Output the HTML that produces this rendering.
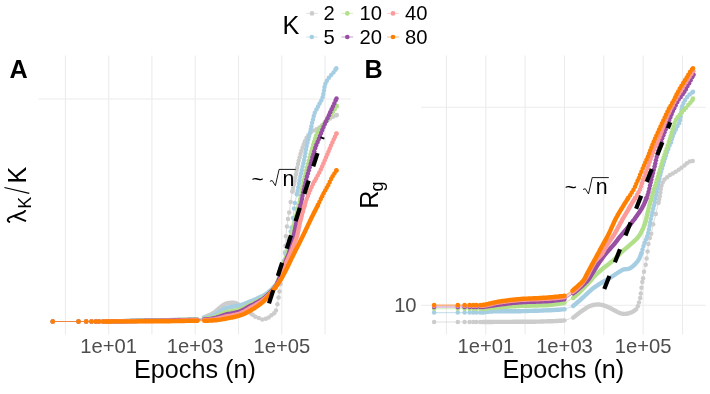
<!DOCTYPE html>
<html><head><meta charset="utf-8"><title>chart</title>
<style>
html,body{margin:0;padding:0;background:#fff;}
body{width:710px;height:394px;overflow:hidden;}
svg{display:block;font-family:"Liberation Sans",sans-serif;will-change:transform;transform:translateZ(0);}
</style></head><body>
<svg width="710" height="394" viewBox="0 0 710 394">
<rect width="710" height="394" fill="#fff"/>
<g id="grid">
<line x1="65.4" y1="55.6" x2="65.4" y2="334.4" stroke="#EBEBEB" stroke-width="1.07"/>
<line x1="446.4" y1="55.6" x2="446.4" y2="334.4" stroke="#EBEBEB" stroke-width="1.07"/>
<line x1="108.7" y1="55.6" x2="108.7" y2="334.4" stroke="#EBEBEB" stroke-width="1.07"/>
<line x1="485.8" y1="55.6" x2="485.8" y2="334.4" stroke="#EBEBEB" stroke-width="1.07"/>
<line x1="151.9" y1="55.6" x2="151.9" y2="334.4" stroke="#EBEBEB" stroke-width="1.07"/>
<line x1="525.1" y1="55.6" x2="525.1" y2="334.4" stroke="#EBEBEB" stroke-width="1.07"/>
<line x1="195.2" y1="55.6" x2="195.2" y2="334.4" stroke="#EBEBEB" stroke-width="1.07"/>
<line x1="564.5" y1="55.6" x2="564.5" y2="334.4" stroke="#EBEBEB" stroke-width="1.07"/>
<line x1="238.5" y1="55.6" x2="238.5" y2="334.4" stroke="#EBEBEB" stroke-width="1.07"/>
<line x1="603.8" y1="55.6" x2="603.8" y2="334.4" stroke="#EBEBEB" stroke-width="1.07"/>
<line x1="281.8" y1="55.6" x2="281.8" y2="334.4" stroke="#EBEBEB" stroke-width="1.07"/>
<line x1="643.1" y1="55.6" x2="643.1" y2="334.4" stroke="#EBEBEB" stroke-width="1.07"/>
<line x1="325.0" y1="55.6" x2="325.0" y2="334.4" stroke="#EBEBEB" stroke-width="1.07"/>
<line x1="682.5" y1="55.6" x2="682.5" y2="334.4" stroke="#EBEBEB" stroke-width="1.07"/>
<line x1="38.4" y1="99.0" x2="351" y2="99.0" stroke="#EBEBEB" stroke-width="1.07"/>
<line x1="421" y1="107.3" x2="705.6" y2="107.3" stroke="#EBEBEB" stroke-width="1.07"/>
<line x1="421" y1="305.2" x2="705.6" y2="305.2" stroke="#EBEBEB" stroke-width="1.07"/>
</g>
<g id="panelA">
<polyline points="52.7,321.5 78.5,321.5 86.2,321.5 91.5,321.5 95.8,321.5 99.0,321.5 103.2,321.5 105.6,321.5 120.0,321.1 150.0,320.5 175.0,319.9 195.7,319.5 197.4,319.5 203.9,317.5 208.0,315.6 213.4,313.0 220.0,307.6 226.0,303.6 230.0,302.9 235.0,303.0 240.0,305.2 246.0,309.8 251.0,313.4 252.6,314.7 255.3,316.7 258.8,318.1 262.3,319.5 265.8,318.8 268.6,317.4 271.4,315.3 274.2,313.3 276.0,310.5 277.4,304.2 278.6,297.5 279.5,291.6 280.6,284.0 281.8,276.0 283.0,268.0 284.0,260.9 285.0,252.3 285.5,245.7 285.9,236.2 286.9,226.6 288.0,219.0 289.2,212.4 290.7,201.9 292.4,191.6 292.4,191.6 295.5,176.5 298.8,160.5 302.4,148.1 306.9,137.4 312.0,131.5 318.2,128.4 329.7,118.6 336.8,115.0" fill="none" stroke="#CCCCCC" stroke-width="1.1" stroke-linecap="round" stroke-linejoin="round" stroke-opacity="0.6"/>
<circle cx="52.7" cy="321.5" r="2.25" fill="#CCCCCC"/><circle cx="78.5" cy="321.5" r="2.25" fill="#CCCCCC"/><circle cx="86.2" cy="321.5" r="2.25" fill="#CCCCCC"/><circle cx="91.5" cy="321.5" r="2.25" fill="#CCCCCC"/><circle cx="95.8" cy="321.5" r="2.25" fill="#CCCCCC"/><circle cx="99.0" cy="321.5" r="2.25" fill="#CCCCCC"/><circle cx="103.2" cy="321.5" r="2.25" fill="#CCCCCC"/>
<polyline points="105.6,321.5 106.8,321.5 108.0,321.4 109.1,321.4 110.2,321.4 111.3,321.4 112.5,321.3 113.6,321.3 114.8,321.3 116.0,321.2 117.3,321.2 118.6,321.2 120.0,321.1 121.0,321.1 122.0,321.1 123.1,321.1 124.2,321.0 125.3,321.0 126.4,321.0 127.6,321.0 128.8,321.0 130.0,320.9 131.2,320.9 132.5,320.9 133.7,320.9 135.0,320.8 136.2,320.8 137.5,320.8 138.7,320.8 140.0,320.7 141.3,320.7 142.5,320.7 143.8,320.7 145.0,320.6 146.2,320.6 147.4,320.6 148.6,320.6 149.7,320.5 150.9,320.5 152.2,320.5 153.4,320.4 154.6,320.4 155.9,320.4 157.1,320.4 158.3,320.3 159.5,320.3 160.7,320.3 161.9,320.2 163.1,320.2 164.3,320.2 165.5,320.2 166.6,320.1 167.8,320.1 169.0,320.1 170.1,320.0 171.3,320.0 172.4,320.0 173.6,320.0 174.7,319.9 175.9,319.9 177.3,319.9 178.6,319.8 180.0,319.8 181.4,319.8 182.8,319.8 184.2,319.7 185.6,319.7 186.9,319.7 188.2,319.6 189.5,319.6 190.7,319.6 191.8,319.6 192.8,319.5 193.7,319.5 194.6,319.5 195.3,319.5 196.1,319.5 197.1,319.5 197.4,319.5" fill="none" stroke="#CCCCCC" stroke-width="4.4" stroke-linecap="round" stroke-linejoin="round" stroke-opacity="1"/>
<polyline points="203.9,317.5 204.9,317.0 205.9,316.6 206.9,316.1 208.0,315.6 209.0,315.1 210.1,314.7 211.2,314.2 212.3,313.6 213.4,313.0 214.3,312.4 215.2,311.7 216.1,310.9 217.0,310.1 218.0,309.3 218.9,308.5 219.8,307.8 220.7,307.1 221.7,306.3 222.7,305.6 223.7,304.9 224.6,304.3 225.5,303.8 226.6,303.4 227.7,303.1 228.8,303.0 230.0,302.9 231.1,302.8 232.3,302.8 233.5,302.8 234.7,302.9 235.8,303.2 236.9,303.6 237.9,304.1 238.9,304.6 240.0,305.2 240.9,305.8 241.9,306.5 242.8,307.2 243.7,308.0 244.6,308.7 245.6,309.5 246.5,310.2 247.5,310.9 248.4,311.5 249.3,312.2 250.3,312.9 251.0,313.4" fill="none" stroke="#CCCCCC" stroke-width="4.4" stroke-linecap="round" stroke-linejoin="round" stroke-opacity="1"/>
<circle cx="252.6" cy="314.7" r="2.25" fill="#CCCCCC"/><circle cx="255.3" cy="316.7" r="2.25" fill="#CCCCCC"/><circle cx="258.8" cy="318.1" r="2.25" fill="#CCCCCC"/><circle cx="262.3" cy="319.5" r="2.25" fill="#CCCCCC"/><circle cx="265.8" cy="318.8" r="2.25" fill="#CCCCCC"/><circle cx="268.6" cy="317.4" r="2.25" fill="#CCCCCC"/><circle cx="271.4" cy="315.3" r="2.25" fill="#CCCCCC"/><circle cx="274.2" cy="313.3" r="2.25" fill="#CCCCCC"/><circle cx="276.0" cy="310.5" r="2.25" fill="#CCCCCC"/><circle cx="277.4" cy="304.2" r="2.25" fill="#CCCCCC"/><circle cx="278.6" cy="297.5" r="2.25" fill="#CCCCCC"/><circle cx="279.5" cy="291.6" r="2.25" fill="#CCCCCC"/><circle cx="280.6" cy="284.0" r="2.25" fill="#CCCCCC"/><circle cx="281.8" cy="276.0" r="2.25" fill="#CCCCCC"/><circle cx="283.0" cy="268.0" r="2.25" fill="#CCCCCC"/><circle cx="284.0" cy="260.9" r="2.25" fill="#CCCCCC"/><circle cx="285.0" cy="252.3" r="2.25" fill="#CCCCCC"/><circle cx="285.5" cy="245.7" r="2.25" fill="#CCCCCC"/><circle cx="285.9" cy="236.2" r="2.25" fill="#CCCCCC"/><circle cx="286.9" cy="226.6" r="2.25" fill="#CCCCCC"/><circle cx="288.0" cy="219.0" r="2.25" fill="#CCCCCC"/><circle cx="289.2" cy="212.4" r="2.25" fill="#CCCCCC"/><circle cx="290.7" cy="201.9" r="2.25" fill="#CCCCCC"/><circle cx="292.4" cy="191.6" r="2.25" fill="#CCCCCC"/>
<circle cx="292.4" cy="191.6" r="2.25" fill="#CCCCCC"/><circle cx="293.1" cy="188.1" r="2.25" fill="#CCCCCC"/><circle cx="293.8" cy="184.7" r="2.25" fill="#CCCCCC"/><circle cx="294.5" cy="181.2" r="2.25" fill="#CCCCCC"/><circle cx="295.3" cy="177.7" r="2.25" fill="#CCCCCC"/><circle cx="296.0" cy="174.2" r="2.25" fill="#CCCCCC"/><circle cx="296.6" cy="170.9" r="2.25" fill="#CCCCCC"/><circle cx="297.2" cy="167.7" r="2.25" fill="#CCCCCC"/><circle cx="298.0" cy="164.1" r="2.25" fill="#CCCCCC"/><circle cx="298.7" cy="160.8" r="2.25" fill="#CCCCCC"/><circle cx="299.6" cy="157.5" r="2.25" fill="#CCCCCC"/><circle cx="300.5" cy="154.1" r="2.25" fill="#CCCCCC"/><circle cx="301.5" cy="150.8" r="2.25" fill="#CCCCCC"/><circle cx="302.6" cy="147.5" r="2.25" fill="#CCCCCC"/><circle cx="303.8" cy="144.3" r="2.25" fill="#CCCCCC"/><circle cx="305.0" cy="141.2" r="2.25" fill="#CCCCCC"/><circle cx="306.5" cy="138.1" r="2.25" fill="#CCCCCC"/><circle cx="308.3" cy="135.3" r="2.25" fill="#CCCCCC"/><circle cx="310.7" cy="132.6" r="2.25" fill="#CCCCCC"/><circle cx="313.4" cy="130.6" r="2.25" fill="#CCCCCC"/><circle cx="316.5" cy="129.3" r="2.25" fill="#CCCCCC"/><circle cx="319.4" cy="127.5" r="2.25" fill="#CCCCCC"/><circle cx="322.1" cy="125.2" r="2.25" fill="#CCCCCC"/><circle cx="324.7" cy="122.8" r="2.25" fill="#CCCCCC"/><circle cx="327.3" cy="120.5" r="2.25" fill="#CCCCCC"/><circle cx="330.0" cy="118.4" r="2.25" fill="#CCCCCC"/><circle cx="332.9" cy="116.8" r="2.25" fill="#CCCCCC"/><circle cx="336.0" cy="115.4" r="2.25" fill="#CCCCCC"/><circle cx="336.8" cy="115.0" r="2.25" fill="#CCCCCC"/>
<polyline points="52.7,321.5 78.5,321.5 86.2,321.5 91.5,321.5 95.8,321.5 99.0,321.5 103.2,321.5 105.6,321.5 120.0,321.2 150.0,320.6 175.0,320.0 195.7,319.6 197.4,319.6 204.3,318.0 213.4,315.5 220.0,311.4 226.0,308.1 232.4,306.8 238.7,305.7 244.0,304.0 250.4,301.3 255.0,299.5 260.5,296.9 264.0,295.3 267.6,292.8 271.5,289.5 275.7,284.9 277.6,282.0 279.2,275.0 280.5,268.0 282.2,264.0 284.0,260.9 285.5,254.0 287.0,247.0 288.7,240.0 290.7,231.4 291.6,227.6 293.0,218.0 294.1,208.6 294.9,202.9 296.9,194.3 296.9,194.3 300.4,176.5 304.0,160.5 306.6,146.3 310.2,132.1 311.6,125.0 312.3,122.2 314.6,113.3 318.2,106.2 322.3,98.2 323.7,92.0 325.3,84.0 328.9,77.8 333.3,72.8 336.3,68.3" fill="none" stroke="#A6CEE3" stroke-width="1.1" stroke-linecap="round" stroke-linejoin="round" stroke-opacity="0.6"/>
<circle cx="52.7" cy="321.5" r="2.25" fill="#A6CEE3"/><circle cx="78.5" cy="321.5" r="2.25" fill="#A6CEE3"/><circle cx="86.2" cy="321.5" r="2.25" fill="#A6CEE3"/><circle cx="91.5" cy="321.5" r="2.25" fill="#A6CEE3"/><circle cx="95.8" cy="321.5" r="2.25" fill="#A6CEE3"/><circle cx="99.0" cy="321.5" r="2.25" fill="#A6CEE3"/><circle cx="103.2" cy="321.5" r="2.25" fill="#A6CEE3"/>
<polyline points="105.6,321.5 106.8,321.5 108.0,321.4 109.1,321.4 110.2,321.4 111.3,321.4 112.5,321.3 113.6,321.3 114.8,321.3 116.0,321.2 117.3,321.2 118.6,321.2 120.0,321.2 121.0,321.1 122.0,321.1 123.1,321.1 124.2,321.1 125.3,321.1 126.4,321.0 127.6,321.0 128.8,321.0 130.0,321.0 131.2,320.9 132.5,320.9 133.7,320.9 135.0,320.9 136.2,320.8 137.5,320.8 138.7,320.8 140.0,320.8 141.3,320.8 142.5,320.7 143.8,320.7 145.0,320.7 146.2,320.7 147.4,320.6 148.6,320.6 149.7,320.6 150.9,320.6 152.2,320.5 153.4,320.5 154.6,320.5 155.9,320.5 157.1,320.4 158.3,320.4 159.5,320.4 160.7,320.3 161.9,320.3 163.1,320.3 164.3,320.3 165.5,320.2 166.6,320.2 167.8,320.2 169.0,320.2 170.1,320.1 171.3,320.1 172.4,320.1 173.6,320.1 174.7,320.0 175.9,320.0 177.3,320.0 178.6,319.9 180.0,319.9 181.4,319.9 182.8,319.9 184.2,319.8 185.6,319.8 186.9,319.8 188.2,319.7 189.5,319.7 190.7,319.7 191.8,319.7 192.8,319.6 193.7,319.6 194.6,319.6 195.3,319.6 196.1,319.6 197.1,319.6 197.4,319.6" fill="none" stroke="#A6CEE3" stroke-width="4.4" stroke-linecap="round" stroke-linejoin="round" stroke-opacity="1"/>
<polyline points="204.3,318.0 205.5,317.7 206.6,317.4 207.8,317.2 209.0,316.9 210.1,316.6 211.3,316.3 212.4,315.9 213.4,315.5 214.5,315.0 215.6,314.3 216.6,313.7 217.5,313.0 218.5,312.3 219.5,311.7 220.5,311.1 221.6,310.5 222.6,309.8 223.6,309.2 224.7,308.7 225.7,308.2 226.8,307.8 228.0,307.5 229.2,307.3 230.3,307.1 231.5,307.0 232.7,306.7 233.8,306.6 235.0,306.4 236.2,306.2 237.3,306.0 238.4,305.8 239.6,305.5 240.7,305.2 241.8,304.8 242.9,304.4 244.0,304.0 245.0,303.6 246.1,303.1 247.2,302.7 248.3,302.2 249.4,301.7 250.4,301.3 251.5,300.9 252.6,300.5 253.6,300.1 254.7,299.6 255.8,299.2 256.8,298.7 257.9,298.1 259.0,297.6 260.0,297.1 261.1,296.6 262.2,296.2 263.2,295.7 264.2,295.2 265.2,294.5 266.2,293.9 267.1,293.2 268.0,292.5 268.9,291.8 269.8,291.1 270.6,290.3 271.5,289.5 272.3,288.7 273.1,287.8 273.9,286.9 274.7,286.0 275.5,285.1 275.7,284.9" fill="none" stroke="#A6CEE3" stroke-width="4.4" stroke-linecap="round" stroke-linejoin="round" stroke-opacity="1"/>
<circle cx="277.6" cy="282.0" r="2.25" fill="#A6CEE3"/><circle cx="279.2" cy="275.0" r="2.25" fill="#A6CEE3"/><circle cx="280.5" cy="268.0" r="2.25" fill="#A6CEE3"/><circle cx="282.2" cy="264.0" r="2.25" fill="#A6CEE3"/><circle cx="284.0" cy="260.9" r="2.25" fill="#A6CEE3"/><circle cx="285.5" cy="254.0" r="2.25" fill="#A6CEE3"/><circle cx="287.0" cy="247.0" r="2.25" fill="#A6CEE3"/><circle cx="288.7" cy="240.0" r="2.25" fill="#A6CEE3"/><circle cx="290.7" cy="231.4" r="2.25" fill="#A6CEE3"/><circle cx="291.6" cy="227.6" r="2.25" fill="#A6CEE3"/><circle cx="293.0" cy="218.0" r="2.25" fill="#A6CEE3"/><circle cx="294.1" cy="208.6" r="2.25" fill="#A6CEE3"/><circle cx="294.9" cy="202.9" r="2.25" fill="#A6CEE3"/><circle cx="296.9" cy="194.3" r="2.25" fill="#A6CEE3"/>
<circle cx="296.9" cy="194.3" r="2.25" fill="#A6CEE3"/><circle cx="297.6" cy="190.8" r="2.25" fill="#A6CEE3"/><circle cx="298.3" cy="187.2" r="2.25" fill="#A6CEE3"/><circle cx="298.9" cy="183.7" r="2.25" fill="#A6CEE3"/><circle cx="299.6" cy="180.2" r="2.25" fill="#A6CEE3"/><circle cx="300.3" cy="176.8" r="2.25" fill="#A6CEE3"/><circle cx="301.0" cy="173.5" r="2.25" fill="#A6CEE3"/><circle cx="301.8" cy="170.3" r="2.25" fill="#A6CEE3"/><circle cx="302.6" cy="166.8" r="2.25" fill="#A6CEE3"/><circle cx="303.4" cy="163.3" r="2.25" fill="#A6CEE3"/><circle cx="304.1" cy="159.9" r="2.25" fill="#A6CEE3"/><circle cx="304.8" cy="156.4" r="2.25" fill="#A6CEE3"/><circle cx="305.4" cy="152.9" r="2.25" fill="#A6CEE3"/><circle cx="306.0" cy="149.5" r="2.25" fill="#A6CEE3"/><circle cx="306.7" cy="146.0" r="2.25" fill="#A6CEE3"/><circle cx="307.5" cy="142.7" r="2.25" fill="#A6CEE3"/><circle cx="308.3" cy="139.3" r="2.25" fill="#A6CEE3"/><circle cx="309.2" cy="136.1" r="2.25" fill="#A6CEE3"/><circle cx="310.0" cy="132.8" r="2.25" fill="#A6CEE3"/><circle cx="310.7" cy="129.5" r="2.25" fill="#A6CEE3"/><circle cx="311.4" cy="126.2" r="2.25" fill="#A6CEE3"/><circle cx="312.1" cy="122.8" r="2.25" fill="#A6CEE3"/><circle cx="313.0" cy="119.4" r="2.25" fill="#A6CEE3"/><circle cx="313.8" cy="115.9" r="2.25" fill="#A6CEE3"/><circle cx="314.8" cy="112.7" r="2.25" fill="#A6CEE3"/><circle cx="316.4" cy="109.6" r="2.25" fill="#A6CEE3"/><circle cx="318.1" cy="106.5" r="2.25" fill="#A6CEE3"/><circle cx="319.6" cy="103.5" r="2.25" fill="#A6CEE3"/><circle cx="321.3" cy="100.6" r="2.25" fill="#A6CEE3"/><circle cx="322.6" cy="97.3" r="2.25" fill="#A6CEE3"/><circle cx="323.3" cy="94.0" r="2.25" fill="#A6CEE3"/><circle cx="324.0" cy="90.6" r="2.25" fill="#A6CEE3"/><circle cx="324.5" cy="87.1" r="2.25" fill="#A6CEE3"/><circle cx="325.4" cy="83.7" r="2.25" fill="#A6CEE3"/><circle cx="326.9" cy="80.8" r="2.25" fill="#A6CEE3"/><circle cx="328.9" cy="77.8" r="2.25" fill="#A6CEE3"/><circle cx="331.2" cy="75.1" r="2.25" fill="#A6CEE3"/><circle cx="333.5" cy="72.6" r="2.25" fill="#A6CEE3"/><circle cx="335.4" cy="69.7" r="2.25" fill="#A6CEE3"/><circle cx="336.3" cy="68.3" r="2.25" fill="#A6CEE3"/>
<polyline points="52.7,321.5 78.5,321.5 86.2,321.5 91.5,321.5 95.8,321.5 99.0,321.5 103.2,321.5 105.6,321.5 120.0,321.2 150.0,320.6 175.0,320.1 195.7,319.7 197.4,319.7 204.3,318.8 213.4,317.4 220.0,314.7 226.0,312.1 232.4,311.0 238.7,309.8 244.0,307.7 250.4,304.3 255.0,302.3 260.5,299.4 264.0,297.4 267.6,294.4 271.5,290.7 275.7,285.9 275.7,285.9 279.5,277.0 283.0,266.0 289.2,247.0 295.5,219.0 299.2,203.8 301.2,193.4 304.4,178.3 310.4,155.2 317.6,132.1 322.8,125.0 328.3,118.0 332.2,113.0 336.8,106.0" fill="none" stroke="#B2DF8A" stroke-width="1.1" stroke-linecap="round" stroke-linejoin="round" stroke-opacity="0.6"/>
<circle cx="52.7" cy="321.5" r="2.25" fill="#B2DF8A"/><circle cx="78.5" cy="321.5" r="2.25" fill="#B2DF8A"/><circle cx="86.2" cy="321.5" r="2.25" fill="#B2DF8A"/><circle cx="91.5" cy="321.5" r="2.25" fill="#B2DF8A"/><circle cx="95.8" cy="321.5" r="2.25" fill="#B2DF8A"/><circle cx="99.0" cy="321.5" r="2.25" fill="#B2DF8A"/><circle cx="103.2" cy="321.5" r="2.25" fill="#B2DF8A"/>
<polyline points="105.6,321.5 106.8,321.5 108.0,321.4 109.1,321.4 110.2,321.4 111.3,321.4 112.5,321.3 113.6,321.3 114.8,321.3 116.0,321.3 117.3,321.2 118.6,321.2 120.0,321.2 121.0,321.2 122.0,321.1 123.1,321.1 124.2,321.1 125.3,321.1 126.4,321.1 127.6,321.0 128.8,321.0 130.0,321.0 131.2,321.0 132.5,321.0 133.7,320.9 135.0,320.9 136.2,320.9 137.5,320.9 138.7,320.8 140.0,320.8 141.3,320.8 142.5,320.8 143.8,320.8 145.0,320.7 146.2,320.7 147.4,320.7 148.6,320.7 149.7,320.6 150.9,320.6 152.2,320.6 153.4,320.6 154.6,320.5 155.9,320.5 157.1,320.5 158.3,320.5 159.5,320.4 160.7,320.4 161.9,320.4 163.1,320.4 164.3,320.3 165.5,320.3 166.6,320.3 167.8,320.3 169.0,320.2 170.1,320.2 171.3,320.2 172.4,320.2 173.6,320.1 174.7,320.1 175.9,320.1 177.3,320.1 178.6,320.0 180.0,320.0 181.4,320.0 182.8,319.9 184.2,319.9 185.6,319.9 186.9,319.9 188.2,319.8 189.5,319.8 190.7,319.8 191.8,319.8 192.8,319.7 193.7,319.7 194.6,319.7 195.3,319.7 196.1,319.7 197.1,319.7 197.4,319.7" fill="none" stroke="#B2DF8A" stroke-width="4.4" stroke-linecap="round" stroke-linejoin="round" stroke-opacity="1"/>
<polyline points="204.3,318.8 205.5,318.6 206.7,318.5 207.9,318.3 209.1,318.2 210.3,318.0 211.5,317.8 212.6,317.6 213.7,317.3 214.9,316.9 216.0,316.5 217.1,316.0 218.1,315.5 219.2,315.0 220.3,314.6 221.4,314.1 222.5,313.6 223.5,313.1 224.6,312.6 225.7,312.2 226.9,311.9 228.0,311.6 229.2,311.5 230.4,311.3 231.5,311.1 232.7,310.9 233.8,310.8 235.0,310.6 236.2,310.4 237.3,310.1 238.4,309.9 239.5,309.5 240.6,309.2 241.6,308.8 242.7,308.3 243.7,307.8 244.8,307.3 245.8,306.8 246.8,306.2 247.9,305.6 248.9,305.1 249.9,304.5 251.0,304.0 252.1,303.6 253.1,303.1 254.2,302.7 255.3,302.2 256.3,301.6 257.4,301.1 258.5,300.5 259.5,299.9 260.5,299.4 261.6,298.8 262.6,298.3 263.5,297.7 264.5,297.1 265.4,296.4 266.3,295.6 267.1,294.8 268.0,294.0 268.9,293.2 269.8,292.4 270.6,291.6 271.5,290.7 272.3,289.9 273.0,289.0 273.8,288.1 274.6,287.2 275.3,286.3 275.7,285.9" fill="none" stroke="#B2DF8A" stroke-width="4.4" stroke-linecap="round" stroke-linejoin="round" stroke-opacity="1"/>
<polyline points="275.7,285.9 276.2,284.8 276.6,283.8 277.1,282.7 277.6,281.7 278.0,280.6 278.5,279.5 279.0,278.4 279.4,277.3 279.8,276.2 280.2,275.1 280.5,274.1 280.8,273.0 281.2,271.9 281.5,270.8 281.9,269.6 282.2,268.5 282.6,267.3 283.0,266.0 283.3,265.0 283.7,264.0 284.0,263.0 284.4,261.9 284.7,260.8 285.1,259.7 285.5,258.6 285.9,257.5 286.3,256.4 286.7,255.2 287.1,254.0 287.5,252.8 287.8,251.6 288.2,250.4 288.6,249.2 288.9,247.9 289.3,246.7 289.6,245.7 289.8,244.6 290.1,243.4 290.4,242.3 290.7,241.1 291.0,239.9 291.2,238.7 291.5,237.5 291.8,236.2 292.1,235.0 292.3,233.8 292.6,232.5 292.8,231.3 293.1,230.0 293.4,228.8 293.6,227.6 293.9,226.4 294.1,225.2 294.4,224.1 294.6,223.0 294.9,221.9 295.1,220.8 295.3,219.8 295.6,218.7 295.9,217.4 296.2,216.1 296.5,214.9 296.8,213.7 297.1,212.5 297.4,211.4 297.7,210.2 297.9,209.1 298.2,208.0 298.5,207.0 298.7,205.9 298.9,205.1" fill="none" stroke="#B2DF8A" stroke-width="4.4" stroke-linecap="round" stroke-linejoin="round" stroke-opacity="1"/>
<circle cx="298.9" cy="205.1" r="2.25" fill="#B2DF8A"/><circle cx="299.6" cy="202.0" r="2.25" fill="#B2DF8A"/><circle cx="300.2" cy="198.9" r="2.25" fill="#B2DF8A"/><circle cx="300.7" cy="195.8" r="2.25" fill="#B2DF8A"/><circle cx="301.4" cy="192.6" r="2.25" fill="#B2DF8A"/><circle cx="302.0" cy="189.3" r="2.25" fill="#B2DF8A"/><circle cx="302.7" cy="186.2" r="2.25" fill="#B2DF8A"/><circle cx="303.3" cy="183.0" r="2.25" fill="#B2DF8A"/><circle cx="304.0" cy="179.9" r="2.25" fill="#B2DF8A"/><circle cx="304.8" cy="176.7" r="2.25" fill="#B2DF8A"/><circle cx="305.5" cy="173.7" r="2.25" fill="#B2DF8A"/><circle cx="306.3" cy="170.6" r="2.25" fill="#B2DF8A"/><circle cx="307.1" cy="167.3" r="2.25" fill="#B2DF8A"/><circle cx="308.0" cy="164.1" r="2.25" fill="#B2DF8A"/><circle cx="308.8" cy="160.8" r="2.25" fill="#B2DF8A"/><circle cx="309.7" cy="157.5" r="2.25" fill="#B2DF8A"/><circle cx="310.6" cy="154.3" r="2.25" fill="#B2DF8A"/><circle cx="311.5" cy="151.3" r="2.25" fill="#B2DF8A"/><circle cx="312.3" cy="148.2" r="2.25" fill="#B2DF8A"/><circle cx="313.2" cy="145.1" r="2.25" fill="#B2DF8A"/><circle cx="314.0" cy="142.0" r="2.25" fill="#B2DF8A"/><circle cx="315.0" cy="138.7" r="2.25" fill="#B2DF8A"/><circle cx="316.0" cy="135.8" r="2.25" fill="#B2DF8A"/><circle cx="317.3" cy="132.7" r="2.25" fill="#B2DF8A"/><circle cx="318.9" cy="129.8" r="2.25" fill="#B2DF8A"/><circle cx="320.8" cy="127.4" r="2.25" fill="#B2DF8A"/><circle cx="323.0" cy="124.8" r="2.25" fill="#B2DF8A"/><circle cx="325.0" cy="122.1" r="2.25" fill="#B2DF8A"/><circle cx="327.1" cy="119.6" r="2.25" fill="#B2DF8A"/><circle cx="329.0" cy="117.1" r="2.25" fill="#B2DF8A"/><circle cx="331.1" cy="114.4" r="2.25" fill="#B2DF8A"/><circle cx="333.0" cy="111.8" r="2.25" fill="#B2DF8A"/><circle cx="334.8" cy="109.1" r="2.25" fill="#B2DF8A"/><circle cx="336.6" cy="106.3" r="2.25" fill="#B2DF8A"/><circle cx="336.8" cy="106.0" r="2.25" fill="#B2DF8A"/>
<polyline points="52.7,321.5 78.5,321.5 86.2,321.5 91.5,321.5 95.8,321.5 99.0,321.5 103.2,321.5 105.6,321.5 120.0,321.2 150.0,320.8 175.0,320.3 195.7,319.9 197.4,319.9 204.3,319.5 213.4,318.5 220.0,316.5 226.0,314.5 232.4,313.3 238.7,311.8 244.0,309.5 250.4,305.8 255.0,303.6 260.5,300.5 264.0,298.3 267.6,295.1 271.5,291.3 275.7,286.5 275.7,286.5 280.0,277.0 284.3,265.0 291.0,247.0 297.3,219.0 301.0,203.8 303.0,193.4 306.6,178.3 311.1,162.3 315.9,146.3 320.0,136.0 324.0,125.9 330.0,112.8 336.5,98.5" fill="none" stroke="#984EA3" stroke-width="1.1" stroke-linecap="round" stroke-linejoin="round" stroke-opacity="0.6"/>
<circle cx="52.7" cy="321.5" r="2.25" fill="#984EA3"/><circle cx="78.5" cy="321.5" r="2.25" fill="#984EA3"/><circle cx="86.2" cy="321.5" r="2.25" fill="#984EA3"/><circle cx="91.5" cy="321.5" r="2.25" fill="#984EA3"/><circle cx="95.8" cy="321.5" r="2.25" fill="#984EA3"/><circle cx="99.0" cy="321.5" r="2.25" fill="#984EA3"/><circle cx="103.2" cy="321.5" r="2.25" fill="#984EA3"/>
<polyline points="105.6,321.5 106.8,321.5 108.0,321.5 109.1,321.4 110.2,321.4 111.3,321.4 112.5,321.4 113.6,321.3 114.8,321.3 116.0,321.3 117.3,321.3 118.6,321.2 120.0,321.2 121.0,321.2 122.0,321.2 123.1,321.2 124.2,321.2 125.3,321.1 126.4,321.1 127.6,321.1 128.8,321.1 130.0,321.1 131.2,321.0 132.5,321.0 133.7,321.0 135.0,321.0 136.2,321.0 137.5,321.0 138.7,320.9 140.0,320.9 141.3,320.9 142.5,320.9 143.8,320.9 145.0,320.8 146.2,320.8 147.4,320.8 148.6,320.8 149.7,320.8 150.9,320.7 152.2,320.7 153.4,320.7 154.6,320.7 155.9,320.7 157.1,320.6 158.3,320.6 159.5,320.6 160.7,320.6 161.9,320.5 163.1,320.5 164.3,320.5 165.5,320.5 166.6,320.5 167.8,320.4 169.0,320.4 170.1,320.4 171.3,320.4 172.4,320.3 173.6,320.3 174.7,320.3 175.9,320.3 177.3,320.2 178.6,320.2 180.0,320.2 181.4,320.2 182.8,320.1 184.2,320.1 185.6,320.1 186.9,320.1 188.2,320.0 189.5,320.0 190.7,320.0 191.8,320.0 192.8,319.9 193.7,319.9 194.6,319.9 195.3,319.9 196.1,319.9 197.1,319.9 197.4,319.9" fill="none" stroke="#984EA3" stroke-width="4.4" stroke-linecap="round" stroke-linejoin="round" stroke-opacity="1"/>
<polyline points="204.3,319.5 205.5,319.4 206.7,319.3 207.9,319.2 209.1,319.1 210.3,319.0 211.5,318.8 212.6,318.7 213.7,318.4 214.9,318.1 216.1,317.8 217.2,317.4 218.3,317.1 219.4,316.7 220.6,316.3 221.7,315.9 222.7,315.6 223.8,315.2 224.9,314.8 226.0,314.5 227.1,314.2 228.3,314.0 229.5,313.8 230.7,313.6 231.8,313.4 233.0,313.2 234.1,312.9 235.3,312.7 236.5,312.4 237.6,312.1 238.7,311.8 239.8,311.4 240.8,311.0 241.9,310.5 242.9,310.0 244.0,309.5 245.0,309.0 246.0,308.4 247.1,307.7 248.1,307.1 249.2,306.5 250.2,305.9 251.2,305.4 252.3,304.9 253.4,304.4 254.4,303.9 255.5,303.3 256.5,302.8 257.5,302.2 258.6,301.6 259.6,301.0 260.5,300.5 261.6,299.9 262.6,299.3 263.5,298.7 264.4,298.0 265.3,297.2 266.1,296.5 267.0,295.7 267.8,294.9 268.6,294.1 269.4,293.4 270.3,292.6 271.1,291.7 271.9,290.9 272.6,290.0 273.4,289.2 274.2,288.3 274.9,287.4 275.7,286.5 275.7,286.5" fill="none" stroke="#984EA3" stroke-width="4.4" stroke-linecap="round" stroke-linejoin="round" stroke-opacity="1"/>
<polyline points="275.7,286.5 276.2,285.4 276.7,284.4 277.2,283.3 277.7,282.2 278.2,281.2 278.7,280.1 279.2,279.0 279.6,277.9 280.1,276.7 280.5,275.7 280.9,274.6 281.3,273.6 281.7,272.5 282.1,271.4 282.5,270.3 282.8,269.1 283.2,268.0 283.7,266.8 284.1,265.6 284.5,264.5 284.9,263.5 285.3,262.5 285.7,261.4 286.1,260.4 286.5,259.3 286.9,258.3 287.4,257.2 287.8,256.1 288.2,255.0 288.7,253.8 289.1,252.7 289.5,251.5 289.9,250.3 290.3,249.1 290.7,247.9 291.1,246.7 291.4,245.7 291.7,244.6 292.0,243.5 292.3,242.3 292.5,241.2 292.8,240.0 293.1,238.8 293.4,237.5 293.6,236.3 293.9,235.1 294.2,233.8 294.4,232.6 294.7,231.3 294.9,230.1 295.2,228.9 295.4,227.6 295.7,226.4 295.9,225.3 296.2,224.1 296.4,223.0 296.7,221.9 296.9,220.8 297.1,219.8 297.4,218.7 297.7,217.4 298.0,216.1 298.3,214.9 298.6,213.7 298.9,212.5 299.2,211.4 299.5,210.2 299.7,209.1 300.0,208.0 300.3,207.0 300.5,205.9 300.7,205.1" fill="none" stroke="#984EA3" stroke-width="4.4" stroke-linecap="round" stroke-linejoin="round" stroke-opacity="1"/>
<circle cx="300.7" cy="205.1" r="2.25" fill="#984EA3"/><circle cx="301.4" cy="202.0" r="2.25" fill="#984EA3"/><circle cx="302.0" cy="198.9" r="2.25" fill="#984EA3"/><circle cx="302.5" cy="195.8" r="2.25" fill="#984EA3"/><circle cx="303.2" cy="192.6" r="2.25" fill="#984EA3"/><circle cx="303.9" cy="189.5" r="2.25" fill="#984EA3"/><circle cx="304.6" cy="186.3" r="2.25" fill="#984EA3"/><circle cx="305.4" cy="183.1" r="2.25" fill="#984EA3"/><circle cx="306.2" cy="179.8" r="2.25" fill="#984EA3"/><circle cx="307.0" cy="176.6" r="2.25" fill="#984EA3"/><circle cx="307.9" cy="173.5" r="2.25" fill="#984EA3"/><circle cx="308.8" cy="170.3" r="2.25" fill="#984EA3"/><circle cx="309.7" cy="167.2" r="2.25" fill="#984EA3"/><circle cx="310.6" cy="164.0" r="2.25" fill="#984EA3"/><circle cx="311.5" cy="160.9" r="2.25" fill="#984EA3"/><circle cx="312.4" cy="157.6" r="2.25" fill="#984EA3"/><circle cx="313.4" cy="154.4" r="2.25" fill="#984EA3"/><circle cx="314.3" cy="151.2" r="2.25" fill="#984EA3"/><circle cx="315.3" cy="148.1" r="2.25" fill="#984EA3"/><circle cx="316.3" cy="145.1" r="2.25" fill="#984EA3"/><circle cx="317.6" cy="141.9" r="2.25" fill="#984EA3"/><circle cx="318.8" cy="139.0" r="2.25" fill="#984EA3"/><circle cx="320.0" cy="136.0" r="2.25" fill="#984EA3"/><circle cx="321.2" cy="133.0" r="2.25" fill="#984EA3"/><circle cx="322.3" cy="130.1" r="2.25" fill="#984EA3"/><circle cx="323.5" cy="127.0" r="2.25" fill="#984EA3"/><circle cx="324.8" cy="124.1" r="2.25" fill="#984EA3"/><circle cx="326.1" cy="121.2" r="2.25" fill="#984EA3"/><circle cx="327.5" cy="118.3" r="2.25" fill="#984EA3"/><circle cx="328.9" cy="115.3" r="2.25" fill="#984EA3"/><circle cx="330.2" cy="112.3" r="2.25" fill="#984EA3"/><circle cx="331.6" cy="109.3" r="2.25" fill="#984EA3"/><circle cx="332.9" cy="106.4" r="2.25" fill="#984EA3"/><circle cx="334.3" cy="103.4" r="2.25" fill="#984EA3"/><circle cx="335.6" cy="100.4" r="2.25" fill="#984EA3"/><circle cx="336.5" cy="98.5" r="2.25" fill="#984EA3"/>
<polyline points="52.7,321.5 78.5,321.5 86.2,321.5 91.5,321.5 95.8,321.5 99.0,321.5 103.2,321.5 105.6,321.5 120.0,321.3 150.0,321.0 175.0,320.7 195.7,320.3 197.4,320.3 204.3,320.1 213.4,319.5 220.0,318.1 226.0,316.5 232.4,315.3 238.7,313.9 244.0,311.6 250.4,307.9 255.0,305.4 260.5,302.0 264.0,299.5 267.6,296.1 271.5,292.1 275.7,287.1 275.7,287.1 280.8,279.0 285.2,265.5 288.1,258.4 291.6,250.4 294.5,243.0 297.0,236.2 300.5,220.2 305.0,204.2 308.5,194.3 313.3,183.6 320.0,171.2 326.2,157.0 331.5,144.5 336.5,133.5" fill="none" stroke="#FB9A99" stroke-width="1.1" stroke-linecap="round" stroke-linejoin="round" stroke-opacity="0.6"/>
<circle cx="52.7" cy="321.5" r="2.25" fill="#FB9A99"/><circle cx="78.5" cy="321.5" r="2.25" fill="#FB9A99"/><circle cx="86.2" cy="321.5" r="2.25" fill="#FB9A99"/><circle cx="91.5" cy="321.5" r="2.25" fill="#FB9A99"/><circle cx="95.8" cy="321.5" r="2.25" fill="#FB9A99"/><circle cx="99.0" cy="321.5" r="2.25" fill="#FB9A99"/><circle cx="103.2" cy="321.5" r="2.25" fill="#FB9A99"/>
<polyline points="105.6,321.5 106.8,321.5 108.0,321.5 109.1,321.5 110.2,321.4 111.3,321.4 112.5,321.4 113.6,321.4 114.8,321.4 116.0,321.4 117.3,321.3 118.6,321.3 120.0,321.3 121.0,321.3 122.0,321.3 123.1,321.3 124.2,321.3 125.3,321.2 126.4,321.2 127.6,321.2 128.8,321.2 130.0,321.2 131.2,321.2 132.5,321.2 133.7,321.2 135.0,321.2 136.2,321.1 137.5,321.1 138.7,321.1 140.0,321.1 141.3,321.1 142.5,321.1 143.8,321.1 145.0,321.1 146.2,321.0 147.4,321.0 148.6,321.0 149.7,321.0 150.9,321.0 152.2,321.0 153.4,321.0 154.6,320.9 155.9,320.9 157.1,320.9 158.3,320.9 159.5,320.9 160.7,320.9 161.9,320.8 163.1,320.8 164.3,320.8 165.5,320.8 166.6,320.8 167.8,320.8 169.0,320.7 170.1,320.7 171.3,320.7 172.4,320.7 173.6,320.7 174.7,320.7 175.9,320.6 177.3,320.6 178.6,320.6 180.0,320.6 181.4,320.5 182.8,320.5 184.2,320.5 185.6,320.5 186.9,320.4 188.2,320.4 189.5,320.4 190.7,320.4 191.8,320.4 192.8,320.3 193.7,320.3 194.6,320.3 195.3,320.3 196.1,320.3 197.1,320.3 197.4,320.3" fill="none" stroke="#FB9A99" stroke-width="4.4" stroke-linecap="round" stroke-linejoin="round" stroke-opacity="1"/>
<polyline points="204.3,320.1 205.5,320.0 206.7,320.0 207.9,319.9 209.1,319.9 210.3,319.8 211.4,319.7 212.6,319.6 213.7,319.5 214.9,319.3 216.1,319.0 217.2,318.8 218.3,318.5 219.4,318.2 220.6,318.0 221.7,317.6 222.9,317.3 224.0,317.0 225.1,316.7 226.3,316.4 227.4,316.2 228.6,316.0 229.8,315.8 230.9,315.6 232.1,315.4 233.3,315.1 234.4,314.9 235.6,314.7 236.8,314.4 237.9,314.1 239.0,313.8 240.1,313.4 241.1,313.0 242.1,312.5 243.2,312.0 244.2,311.5 245.3,310.9 246.3,310.3 247.4,309.7 248.4,309.1 249.4,308.5 250.4,307.9 251.5,307.3 252.5,306.8 253.5,306.3 254.5,305.7 255.5,305.1 256.5,304.5 257.5,303.9 258.6,303.2 259.6,302.6 260.5,302.0 261.5,301.3 262.4,300.7 263.3,300.0 264.2,299.3 265.1,298.6 265.9,297.8 266.8,296.9 267.6,296.1 268.4,295.3 269.2,294.5 270.1,293.6 270.9,292.8 271.7,291.9 272.5,291.0 273.2,290.1 274.0,289.2 274.7,288.3 275.5,287.3 275.7,287.1" fill="none" stroke="#FB9A99" stroke-width="4.4" stroke-linecap="round" stroke-linejoin="round" stroke-opacity="1"/>
<polyline points="275.7,287.1 276.3,286.1 277.0,285.1 277.7,284.2 278.3,283.2 279.0,282.2 279.6,281.2 280.2,280.1 280.8,279.0 281.2,278.0 281.7,276.9 282.1,275.8 282.4,274.6 282.8,273.4 283.2,272.2 283.5,271.0 283.8,269.8 284.2,268.7 284.5,267.5 284.9,266.5 285.2,265.5 285.7,264.3 286.1,263.2 286.5,262.1 287.0,261.0 287.4,260.0 287.9,259.0 288.3,257.9 288.8,256.8 289.3,255.8 289.7,254.7 290.2,253.6 290.7,252.5 291.2,251.5 291.6,250.4 292.1,249.3 292.5,248.2 292.9,247.1 293.4,246.0 293.8,244.9 294.2,243.8 294.6,242.7 295.0,241.7 295.4,240.7 295.8,239.6 296.2,238.6 296.6,237.5 297.0,236.2 297.3,235.3 297.5,234.2 297.8,233.2 298.0,232.0 298.3,230.9 298.5,229.7 298.7,228.5 299.0,227.2 299.2,226.0 299.5,224.7 299.7,223.5 300.0,222.3 300.3,221.1 300.6,219.9 300.9,218.8 301.2,217.6 301.5,216.4 301.8,215.2 302.1,214.0 302.4,212.8 302.8,211.7 303.1,210.5 303.4,209.3 303.8,208.2 304.1,207.1 304.4,206.0 304.7,205.2" fill="none" stroke="#FB9A99" stroke-width="4.4" stroke-linecap="round" stroke-linejoin="round" stroke-opacity="1"/>
<circle cx="304.7" cy="205.2" r="2.25" fill="#FB9A99"/><circle cx="305.7" cy="202.1" r="2.25" fill="#FB9A99"/><circle cx="306.7" cy="199.1" r="2.25" fill="#FB9A99"/><circle cx="307.9" cy="195.9" r="2.25" fill="#FB9A99"/><circle cx="309.0" cy="193.0" r="2.25" fill="#FB9A99"/><circle cx="310.3" cy="190.1" r="2.25" fill="#FB9A99"/><circle cx="311.6" cy="187.1" r="2.25" fill="#FB9A99"/><circle cx="313.0" cy="184.1" r="2.25" fill="#FB9A99"/><circle cx="314.5" cy="181.3" r="2.25" fill="#FB9A99"/><circle cx="316.1" cy="178.4" r="2.25" fill="#FB9A99"/><circle cx="317.7" cy="175.5" r="2.25" fill="#FB9A99"/><circle cx="319.3" cy="172.6" r="2.25" fill="#FB9A99"/><circle cx="320.8" cy="169.6" r="2.25" fill="#FB9A99"/><circle cx="322.1" cy="166.6" r="2.25" fill="#FB9A99"/><circle cx="323.4" cy="163.6" r="2.25" fill="#FB9A99"/><circle cx="324.7" cy="160.5" r="2.25" fill="#FB9A99"/><circle cx="326.0" cy="157.5" r="2.25" fill="#FB9A99"/><circle cx="327.3" cy="154.5" r="2.25" fill="#FB9A99"/><circle cx="328.5" cy="151.5" r="2.25" fill="#FB9A99"/><circle cx="329.8" cy="148.5" r="2.25" fill="#FB9A99"/><circle cx="331.0" cy="145.6" r="2.25" fill="#FB9A99"/><circle cx="332.4" cy="142.6" r="2.25" fill="#FB9A99"/><circle cx="333.7" cy="139.6" r="2.25" fill="#FB9A99"/><circle cx="335.0" cy="136.7" r="2.25" fill="#FB9A99"/><circle cx="336.4" cy="133.8" r="2.25" fill="#FB9A99"/><circle cx="336.5" cy="133.5" r="2.25" fill="#FB9A99"/>
<polyline points="52.7,321.5 78.5,321.5 86.2,321.5 91.5,321.5 95.8,321.5 99.0,321.5 103.2,321.5 105.6,321.5 120.0,321.4 150.0,321.3 175.0,321.1 195.7,320.8 197.4,320.8 204.3,320.8 213.4,320.4 220.0,319.7 226.0,318.6 232.4,317.4 238.7,315.9 244.0,313.9 250.4,310.6 255.0,307.8 260.5,303.9 264.0,300.9 267.6,297.0 271.5,292.5 275.7,287.1 275.7,287.1 280.8,279.5 285.9,270.2 291.6,258.4 297.3,247.0 303.2,235.3 312.1,216.6 318.7,203.5 323.5,193.6 328.0,185.4 332.4,176.5 336.5,170.3" fill="none" stroke="#FF7F00" stroke-width="1.1" stroke-linecap="round" stroke-linejoin="round" stroke-opacity="0.6"/>
<circle cx="52.7" cy="321.5" r="2.25" fill="#FF7F00"/><circle cx="78.5" cy="321.5" r="2.25" fill="#FF7F00"/><circle cx="86.2" cy="321.5" r="2.25" fill="#FF7F00"/><circle cx="91.5" cy="321.5" r="2.25" fill="#FF7F00"/><circle cx="95.8" cy="321.5" r="2.25" fill="#FF7F00"/><circle cx="99.0" cy="321.5" r="2.25" fill="#FF7F00"/><circle cx="103.2" cy="321.5" r="2.25" fill="#FF7F00"/>
<polyline points="105.6,321.5 106.8,321.5 108.0,321.5 109.1,321.5 110.2,321.5 111.3,321.5 112.5,321.4 113.6,321.4 114.8,321.4 116.0,321.4 117.3,321.4 118.6,321.4 120.0,321.4 121.0,321.4 122.0,321.4 123.1,321.4 124.2,321.4 125.3,321.4 126.4,321.4 127.6,321.4 128.8,321.4 130.0,321.4 131.2,321.4 132.5,321.4 133.7,321.4 135.0,321.4 136.2,321.4 137.5,321.3 138.7,321.3 140.0,321.3 141.3,321.3 142.5,321.3 143.8,321.3 145.0,321.3 146.2,321.3 147.4,321.3 148.6,321.3 149.7,321.3 150.9,321.3 152.2,321.3 153.4,321.3 154.6,321.3 155.9,321.3 157.1,321.3 158.3,321.2 159.5,321.2 160.7,321.2 161.9,321.2 163.1,321.2 164.3,321.2 165.5,321.2 166.6,321.2 167.8,321.2 169.0,321.2 170.1,321.2 171.3,321.1 172.4,321.1 173.6,321.1 174.7,321.1 175.9,321.1 177.3,321.1 178.6,321.1 180.0,321.0 181.4,321.0 182.8,321.0 184.2,321.0 185.6,320.9 186.9,320.9 188.2,320.9 189.5,320.9 190.7,320.9 191.8,320.9 192.8,320.8 193.7,320.8 194.6,320.8 195.3,320.8 196.1,320.8 197.1,320.8 197.4,320.8" fill="none" stroke="#FF7F00" stroke-width="4.4" stroke-linecap="round" stroke-linejoin="round" stroke-opacity="1"/>
<polyline points="204.3,320.8 205.5,320.8 206.7,320.7 207.9,320.7 209.1,320.6 210.3,320.6 211.4,320.5 212.6,320.5 213.7,320.4 214.9,320.3 216.1,320.2 217.2,320.1 218.3,319.9 219.4,319.8 220.6,319.6 221.7,319.4 222.9,319.2 224.0,319.0 225.1,318.8 226.3,318.5 227.4,318.3 228.6,318.1 229.8,317.9 230.9,317.7 232.1,317.5 233.3,317.2 234.4,317.0 235.6,316.7 236.7,316.4 237.9,316.1 239.0,315.8 240.1,315.4 241.2,315.0 242.3,314.6 243.4,314.2 244.5,313.7 245.5,313.2 246.6,312.7 247.6,312.1 248.7,311.6 249.7,311.0 250.7,310.4 251.7,309.8 252.7,309.2 253.7,308.6 254.7,308.0 255.7,307.3 256.7,306.7 257.7,306.0 258.7,305.3 259.6,304.6 260.5,303.9 261.4,303.2 262.3,302.4 263.2,301.7 264.0,300.9 264.8,300.1 265.6,299.2 266.4,298.4 267.2,297.5 268.0,296.6 268.8,295.7 269.5,294.8 270.3,293.9 271.1,293.0 271.9,292.1 272.6,291.1 273.3,290.2 274.1,289.2 274.8,288.3 275.5,287.3 275.7,287.1" fill="none" stroke="#FF7F00" stroke-width="4.4" stroke-linecap="round" stroke-linejoin="round" stroke-opacity="1"/>
<polyline points="275.7,287.1 276.4,286.1 277.0,285.2 277.7,284.2 278.4,283.2 279.0,282.3 279.7,281.3 280.3,280.3 280.9,279.3 281.5,278.3 282.1,277.3 282.7,276.3 283.2,275.3 283.8,274.2 284.4,273.2 284.9,272.1 285.5,271.0 286.0,269.9 286.5,268.9 287.1,267.9 287.6,266.8 288.1,265.7 288.6,264.7 289.1,263.6 289.6,262.5 290.2,261.4 290.7,260.3 291.2,259.2 291.7,258.1 292.3,257.1 292.8,256.0 293.3,254.9 293.8,253.9 294.4,252.8 294.9,251.8 295.4,250.7 296.0,249.7 296.5,248.6 297.0,247.5 297.6,246.5 298.1,245.4 298.6,244.4 299.1,243.4 299.7,242.4 300.2,241.3 300.7,240.3 301.2,239.2 301.8,238.2 302.3,237.0 302.9,235.9 303.4,234.8 303.9,233.8 304.4,232.8 304.9,231.8 305.4,230.7 305.9,229.6 306.4,228.5 307.0,227.4 307.5,226.3 308.0,225.2 308.5,224.0 309.1,222.9 309.6,221.8 310.1,220.7 310.6,219.7 311.1,218.6 311.6,217.6 312.1,216.6 312.7,215.4 313.2,214.3 313.8,213.2 314.4,212.1 314.9,211.0 315.5,209.9 316.0,208.9 316.5,207.8 317.1,206.8 317.6,205.8 318.0,205.0" fill="none" stroke="#FF7F00" stroke-width="4.4" stroke-linecap="round" stroke-linejoin="round" stroke-opacity="1"/>
<circle cx="318.0" cy="205.0" r="2.25" fill="#FF7F00"/><circle cx="319.4" cy="202.1" r="2.25" fill="#FF7F00"/><circle cx="320.8" cy="199.1" r="2.25" fill="#FF7F00"/><circle cx="322.2" cy="196.2" r="2.25" fill="#FF7F00"/><circle cx="323.6" cy="193.3" r="2.25" fill="#FF7F00"/><circle cx="325.2" cy="190.5" r="2.25" fill="#FF7F00"/><circle cx="326.7" cy="187.7" r="2.25" fill="#FF7F00"/><circle cx="328.3" cy="184.9" r="2.25" fill="#FF7F00"/><circle cx="329.7" cy="181.9" r="2.25" fill="#FF7F00"/><circle cx="331.1" cy="179.0" r="2.25" fill="#FF7F00"/><circle cx="332.6" cy="176.2" r="2.25" fill="#FF7F00"/><circle cx="334.4" cy="173.4" r="2.25" fill="#FF7F00"/><circle cx="336.2" cy="170.8" r="2.25" fill="#FF7F00"/><circle cx="336.5" cy="170.3" r="2.25" fill="#FF7F00"/>
<line x1="269.0" y1="303.4" x2="322.7" y2="137.1" stroke="#000" stroke-width="4.2" stroke-dasharray="13.9 14.9"/>
<text x="251.60000000000002" y="185.9" font-size="21">~</text><polyline points="269.90000000000003,181.3 272.2,180.5 275.40000000000003,185.70000000000002 279.1,169.4 295.7,169.4" fill="none" stroke="#000" stroke-width="0.9"/><text x="282.6" y="185.9" font-size="21.3">n</text>
</g>
<g id="panelB">
<polyline points="434.1,322.0 457.8,322.0 464.6,322.0 469.6,322.0 473.3,322.0 476.3,322.0 480.2,322.0 482.6,322.0 520.0,321.8 538.0,321.6 558.0,320.9 564.5,320.4 573.2,317.6 582.4,310.6 590.8,305.7 599.3,304.5 606.3,306.3 613.4,309.8 620.4,313.2 625.4,313.9 631.7,312.2 636.2,309.3 637.8,306.2 639.0,302.5 640.2,298.0 640.8,293.4 641.5,287.7 642.3,282.1 643.1,278.2 644.0,271.8 645.7,264.8 646.6,258.5 647.6,251.5 648.4,243.9 649.8,238.0 651.2,233.8 653.2,224.3 655.8,214.1 658.4,202.7 658.4,202.7 660.2,193.9 661.2,186.9 663.5,181.0 668.5,176.0 676.2,171.5 682.5,167.1 688.9,162.0 692.7,161.0" fill="none" stroke="#CCCCCC" stroke-width="1.1" stroke-linecap="round" stroke-linejoin="round" stroke-opacity="0.6"/>
<circle cx="434.1" cy="322.0" r="2.25" fill="#CCCCCC"/><circle cx="457.8" cy="322.0" r="2.25" fill="#CCCCCC"/><circle cx="464.6" cy="322.0" r="2.25" fill="#CCCCCC"/><circle cx="469.6" cy="322.0" r="2.25" fill="#CCCCCC"/><circle cx="473.3" cy="322.0" r="2.25" fill="#CCCCCC"/><circle cx="476.3" cy="322.0" r="2.25" fill="#CCCCCC"/><circle cx="480.2" cy="322.0" r="2.25" fill="#CCCCCC"/>
<polyline points="482.6,322.0 483.8,322.0 485.0,322.0 486.2,322.0 487.5,322.0 488.7,322.0 490.0,322.0 491.2,322.0 492.5,322.0 493.8,321.9 495.0,321.9 496.3,321.9 497.6,321.9 498.8,321.9 500.1,321.9 501.4,321.9 502.6,321.9 503.9,321.9 505.1,321.9 506.3,321.9 507.5,321.9 508.7,321.9 509.9,321.9 511.1,321.9 512.2,321.9 513.4,321.8 514.5,321.8 515.6,321.8 516.7,321.8 517.7,321.8 518.8,321.8 519.8,321.8 521.0,321.8 522.4,321.8 523.6,321.8 524.9,321.8 526.1,321.8 527.2,321.7 528.4,321.7 529.5,321.7 530.6,321.7 531.7,321.7 532.8,321.7 533.9,321.7 535.1,321.7 536.2,321.6 537.4,321.6 538.6,321.6 539.8,321.6 541.0,321.5 542.3,321.5 543.6,321.5 544.9,321.4 546.2,321.4 547.5,321.3 548.8,321.3 550.1,321.2 551.3,321.2 552.5,321.2 553.7,321.1 554.8,321.1 555.9,321.0 556.9,321.0 557.8,320.9 559.1,320.8 560.3,320.7 561.5,320.7 562.6,320.6 563.6,320.5 564.5,320.4" fill="none" stroke="#CCCCCC" stroke-width="4.4" stroke-linecap="round" stroke-linejoin="round" stroke-opacity="1"/>
<polyline points="573.2,317.6 574.1,316.9 575.1,316.1 576.0,315.4 577.0,314.6 577.9,313.9 578.9,313.2 579.8,312.4 580.8,311.8 581.7,311.1 582.7,310.4 583.7,309.7 584.7,309.1 585.7,308.4 586.7,307.7 587.7,307.1 588.7,306.6 589.8,306.1 590.8,305.7 591.9,305.3 593.1,305.0 594.3,304.8 595.5,304.6 596.7,304.5 597.9,304.5 599.0,304.5 600.2,304.6 601.3,304.8 602.4,305.0 603.6,305.3 604.7,305.7 605.7,306.1 606.8,306.5 607.9,307.0 608.9,307.5 610.0,308.0 611.0,308.6 612.1,309.1 613.1,309.7 614.2,310.2 615.3,310.8 616.4,311.4 617.5,312.0 618.6,312.5 619.6,312.9 620.7,313.3 621.9,313.6 623.0,313.8 624.2,313.9 625.4,313.9 626.5,313.8 627.7,313.5 628.9,313.2 630.1,312.8 631.2,312.4 632.3,311.9 633.3,311.3 634.3,310.7 635.2,310.0 636.2,309.3 636.2,309.3" fill="none" stroke="#CCCCCC" stroke-width="4.4" stroke-linecap="round" stroke-linejoin="round" stroke-opacity="1"/>
<circle cx="637.8" cy="306.2" r="2.25" fill="#CCCCCC"/><circle cx="639.0" cy="302.5" r="2.25" fill="#CCCCCC"/><circle cx="640.2" cy="298.0" r="2.25" fill="#CCCCCC"/><circle cx="640.8" cy="293.4" r="2.25" fill="#CCCCCC"/><circle cx="641.5" cy="287.7" r="2.25" fill="#CCCCCC"/><circle cx="642.3" cy="282.1" r="2.25" fill="#CCCCCC"/><circle cx="643.1" cy="278.2" r="2.25" fill="#CCCCCC"/><circle cx="644.0" cy="271.8" r="2.25" fill="#CCCCCC"/><circle cx="645.7" cy="264.8" r="2.25" fill="#CCCCCC"/><circle cx="646.6" cy="258.5" r="2.25" fill="#CCCCCC"/><circle cx="647.6" cy="251.5" r="2.25" fill="#CCCCCC"/><circle cx="648.4" cy="243.9" r="2.25" fill="#CCCCCC"/><circle cx="649.8" cy="238.0" r="2.25" fill="#CCCCCC"/><circle cx="651.2" cy="233.8" r="2.25" fill="#CCCCCC"/><circle cx="653.2" cy="224.3" r="2.25" fill="#CCCCCC"/><circle cx="655.8" cy="214.1" r="2.25" fill="#CCCCCC"/><circle cx="658.4" cy="202.7" r="2.25" fill="#CCCCCC"/>
<circle cx="658.4" cy="202.7" r="2.25" fill="#CCCCCC"/><circle cx="659.1" cy="199.4" r="2.25" fill="#CCCCCC"/><circle cx="659.8" cy="196.2" r="2.25" fill="#CCCCCC"/><circle cx="660.4" cy="192.7" r="2.25" fill="#CCCCCC"/><circle cx="660.8" cy="189.1" r="2.25" fill="#CCCCCC"/><circle cx="661.5" cy="185.8" r="2.25" fill="#CCCCCC"/><circle cx="662.7" cy="182.5" r="2.25" fill="#CCCCCC"/><circle cx="664.5" cy="179.6" r="2.25" fill="#CCCCCC"/><circle cx="667.1" cy="177.2" r="2.25" fill="#CCCCCC"/><circle cx="669.9" cy="175.0" r="2.25" fill="#CCCCCC"/><circle cx="672.8" cy="173.4" r="2.25" fill="#CCCCCC"/><circle cx="675.7" cy="171.8" r="2.25" fill="#CCCCCC"/><circle cx="678.7" cy="169.8" r="2.25" fill="#CCCCCC"/><circle cx="681.5" cy="167.8" r="2.25" fill="#CCCCCC"/><circle cx="684.4" cy="165.6" r="2.25" fill="#CCCCCC"/><circle cx="686.9" cy="163.3" r="2.25" fill="#CCCCCC"/><circle cx="689.7" cy="161.6" r="2.25" fill="#CCCCCC"/><circle cx="692.7" cy="161.0" r="2.25" fill="#CCCCCC"/>
<polyline points="434.1,312.6 457.8,312.6 464.6,312.6 469.6,312.6 473.3,312.6 476.3,312.6 480.2,312.6 482.6,312.6 490.0,311.6 518.6,311.2 550.0,310.2 564.5,309.3 573.2,306.0 582.4,298.0 592.3,289.0 599.3,284.1 604.9,280.8 608.2,279.0 615.9,274.0 623.5,269.5 629.2,268.6 634.0,265.2 638.7,259.6 641.5,253.0 641.5,253.0 644.2,243.9 647.2,236.3 649.4,226.8 651.3,216.7 653.8,206.5 656.4,193.8 659.9,176.7 664.5,160.0 669.8,145.0 670.8,143.2 672.5,137.0 675.9,129.2 679.7,121.6 681.0,113.0 682.2,106.3 684.7,100.7 688.5,95.6 693.0,91.8" fill="none" stroke="#A6CEE3" stroke-width="1.1" stroke-linecap="round" stroke-linejoin="round" stroke-opacity="0.6"/>
<circle cx="434.1" cy="312.6" r="2.25" fill="#A6CEE3"/><circle cx="457.8" cy="312.6" r="2.25" fill="#A6CEE3"/><circle cx="464.6" cy="312.6" r="2.25" fill="#A6CEE3"/><circle cx="469.6" cy="312.6" r="2.25" fill="#A6CEE3"/><circle cx="473.3" cy="312.6" r="2.25" fill="#A6CEE3"/><circle cx="476.3" cy="312.6" r="2.25" fill="#A6CEE3"/><circle cx="480.2" cy="312.6" r="2.25" fill="#A6CEE3"/>
<polyline points="482.6,312.6 483.7,312.4 484.8,312.3 485.9,312.1 487.0,311.9 488.2,311.8 489.6,311.6 490.6,311.6 491.5,311.5 492.4,311.5 493.4,311.4 494.4,311.4 495.5,311.4 496.6,311.4 497.8,311.3 499.0,311.3 500.2,311.3 501.5,311.3 502.7,311.3 504.0,311.3 505.3,311.3 506.6,311.3 507.9,311.3 509.3,311.3 510.6,311.3 511.9,311.3 513.2,311.3 514.5,311.3 515.8,311.3 517.1,311.2 518.3,311.2 519.5,311.2 520.7,311.2 521.9,311.1 523.1,311.1 524.4,311.1 525.6,311.0 526.9,311.0 528.1,311.0 529.4,310.9 530.7,310.9 531.9,310.9 533.2,310.8 534.5,310.8 535.7,310.7 537.0,310.7 538.2,310.7 539.5,310.6 540.7,310.6 541.9,310.5 543.0,310.5 544.2,310.4 545.3,310.4 546.4,310.4 547.5,310.3 548.5,310.3 549.5,310.2 550.7,310.2 552.0,310.1 553.3,310.0 554.5,310.0 555.7,309.9 556.9,309.8 558.0,309.7 559.1,309.7 560.2,309.6 561.4,309.5 562.5,309.4 563.6,309.4 564.5,309.3" fill="none" stroke="#A6CEE3" stroke-width="4.4" stroke-linecap="round" stroke-linejoin="round" stroke-opacity="1"/>
<polyline points="573.2,306.0 574.1,305.2 575.0,304.4 575.9,303.7 576.8,302.9 577.7,302.1 578.6,301.4 579.5,300.6 580.4,299.8 581.3,299.0 582.2,298.2 583.1,297.4 583.9,296.6 584.8,295.8 585.7,294.9 586.6,294.1 587.5,293.2 588.4,292.4 589.3,291.6 590.2,290.8 591.0,290.0 591.9,289.3 592.8,288.6 593.8,287.8 594.8,287.1 595.8,286.4 596.7,285.8 597.7,285.2 598.6,284.5 599.6,283.9 600.6,283.3 601.7,282.6 602.7,282.0 603.7,281.5 604.7,280.9 605.7,280.4 606.6,279.9 607.6,279.3 608.6,278.8 609.5,278.2 610.5,277.6 611.5,276.9 612.5,276.2 613.6,275.5 614.6,274.8 615.6,274.2 616.7,273.5 617.7,272.8 618.7,272.2 619.7,271.5 620.8,270.9 621.8,270.3 622.8,269.8 623.8,269.4 625.0,269.2 626.1,269.1 627.3,269.0 628.4,268.8 629.5,268.5 630.5,268.0 631.5,267.3 632.4,266.6 633.3,265.8 634.2,265.0 635.0,264.2 635.8,263.4 636.6,262.5 637.4,261.5 638.1,260.6 638.7,259.6 639.3,258.6 639.8,257.5 640.2,256.4 640.6,255.2 641.1,254.1 641.5,253.0 641.5,253.0" fill="none" stroke="#A6CEE3" stroke-width="4.4" stroke-linecap="round" stroke-linejoin="round" stroke-opacity="1"/>
<circle cx="641.5" cy="253.0" r="2.25" fill="#A6CEE3"/><circle cx="642.5" cy="249.5" r="2.25" fill="#A6CEE3"/><circle cx="643.5" cy="246.1" r="2.25" fill="#A6CEE3"/><circle cx="644.6" cy="242.8" r="2.25" fill="#A6CEE3"/><circle cx="646.0" cy="239.6" r="2.25" fill="#A6CEE3"/><circle cx="647.2" cy="236.3" r="2.25" fill="#A6CEE3"/><circle cx="648.1" cy="233.0" r="2.25" fill="#A6CEE3"/><circle cx="648.9" cy="229.4" r="2.25" fill="#A6CEE3"/><circle cx="649.6" cy="225.9" r="2.25" fill="#A6CEE3"/><circle cx="650.2" cy="222.5" r="2.25" fill="#A6CEE3"/><circle cx="650.8" cy="219.0" r="2.25" fill="#A6CEE3"/><circle cx="651.6" cy="215.6" r="2.25" fill="#A6CEE3"/><circle cx="652.4" cy="212.2" r="2.25" fill="#A6CEE3"/><circle cx="653.2" cy="208.8" r="2.25" fill="#A6CEE3"/><circle cx="654.0" cy="205.4" r="2.25" fill="#A6CEE3"/><circle cx="654.7" cy="202.1" r="2.25" fill="#A6CEE3"/><circle cx="655.4" cy="198.6" r="2.25" fill="#A6CEE3"/><circle cx="656.1" cy="195.3" r="2.25" fill="#A6CEE3"/><circle cx="656.8" cy="191.9" r="2.25" fill="#A6CEE3"/><circle cx="657.4" cy="188.5" r="2.25" fill="#A6CEE3"/><circle cx="658.1" cy="184.9" r="2.25" fill="#A6CEE3"/><circle cx="658.8" cy="181.7" r="2.25" fill="#A6CEE3"/><circle cx="659.5" cy="178.4" r="2.25" fill="#A6CEE3"/><circle cx="660.3" cy="175.0" r="2.25" fill="#A6CEE3"/><circle cx="661.1" cy="171.7" r="2.25" fill="#A6CEE3"/><circle cx="662.0" cy="168.6" r="2.25" fill="#A6CEE3"/><circle cx="663.0" cy="165.1" r="2.25" fill="#A6CEE3"/><circle cx="664.0" cy="161.7" r="2.25" fill="#A6CEE3"/><circle cx="665.0" cy="158.5" r="2.25" fill="#A6CEE3"/><circle cx="666.0" cy="155.4" r="2.25" fill="#A6CEE3"/><circle cx="667.1" cy="152.1" r="2.25" fill="#A6CEE3"/><circle cx="668.3" cy="148.9" r="2.25" fill="#A6CEE3"/><circle cx="669.5" cy="145.6" r="2.25" fill="#A6CEE3"/><circle cx="671.0" cy="142.6" r="2.25" fill="#A6CEE3"/><circle cx="671.9" cy="139.1" r="2.25" fill="#A6CEE3"/><circle cx="672.9" cy="136.0" r="2.25" fill="#A6CEE3"/><circle cx="674.3" cy="132.7" r="2.25" fill="#A6CEE3"/><circle cx="675.8" cy="129.5" r="2.25" fill="#A6CEE3"/><circle cx="677.4" cy="126.3" r="2.25" fill="#A6CEE3"/><circle cx="679.1" cy="123.2" r="2.25" fill="#A6CEE3"/><circle cx="680.1" cy="119.9" r="2.25" fill="#A6CEE3"/><circle cx="680.6" cy="116.5" r="2.25" fill="#A6CEE3"/><circle cx="681.0" cy="113.0" r="2.25" fill="#A6CEE3"/><circle cx="681.5" cy="109.7" r="2.25" fill="#A6CEE3"/><circle cx="682.2" cy="106.3" r="2.25" fill="#A6CEE3"/><circle cx="683.5" cy="103.0" r="2.25" fill="#A6CEE3"/><circle cx="685.1" cy="100.0" r="2.25" fill="#A6CEE3"/><circle cx="687.2" cy="97.1" r="2.25" fill="#A6CEE3"/><circle cx="689.6" cy="94.6" r="2.25" fill="#A6CEE3"/><circle cx="692.3" cy="92.4" r="2.25" fill="#A6CEE3"/><circle cx="693.0" cy="91.8" r="2.25" fill="#A6CEE3"/>
<polyline points="434.1,308.8 457.8,308.8 464.6,308.8 469.6,308.8 473.3,308.8 476.3,308.8 480.2,308.8 482.6,308.8 500.0,307.2 518.6,306.0 550.0,304.9 564.5,302.9 573.2,298.0 579.5,292.3 586.0,285.6 590.5,280.9 594.3,276.3 603.2,268.3 613.3,260.4 622.2,251.5 631.1,243.9 638.7,236.3 644.7,224.3 647.3,214.1 649.8,204.0 653.0,192.5 655.9,183.1 659.7,170.4 663.5,157.7 667.9,145.0 670.1,138.1 672.7,129.2 676.5,118.8 682.2,112.2 687.3,106.3 692.4,100.0 693.0,98.5" fill="none" stroke="#B2DF8A" stroke-width="1.1" stroke-linecap="round" stroke-linejoin="round" stroke-opacity="0.6"/>
<circle cx="434.1" cy="308.8" r="2.25" fill="#B2DF8A"/><circle cx="457.8" cy="308.8" r="2.25" fill="#B2DF8A"/><circle cx="464.6" cy="308.8" r="2.25" fill="#B2DF8A"/><circle cx="469.6" cy="308.8" r="2.25" fill="#B2DF8A"/><circle cx="473.3" cy="308.8" r="2.25" fill="#B2DF8A"/><circle cx="476.3" cy="308.8" r="2.25" fill="#B2DF8A"/><circle cx="480.2" cy="308.8" r="2.25" fill="#B2DF8A"/>
<polyline points="482.6,308.8 483.8,308.7 485.0,308.6 486.1,308.5 487.3,308.4 488.5,308.2 489.6,308.1 490.8,308.0 492.0,307.9 493.2,307.8 494.4,307.7 495.5,307.6 496.7,307.5 497.9,307.4 499.1,307.3 500.3,307.2 501.4,307.1 502.6,307.0 503.7,306.9 504.8,306.8 506.0,306.8 507.1,306.7 508.2,306.6 509.4,306.5 510.5,306.5 511.7,306.4 512.9,306.3 514.1,306.2 515.4,306.2 516.6,306.1 517.9,306.0 519.1,306.0 520.2,305.9 521.3,305.9 522.5,305.8 523.6,305.8 524.9,305.8 526.1,305.7 527.3,305.7 528.6,305.7 529.9,305.7 531.1,305.6 532.4,305.6 533.7,305.6 535.0,305.5 536.3,305.5 537.6,305.5 538.9,305.4 540.1,305.4 541.4,305.4 542.6,305.3 543.8,305.3 544.9,305.2 546.1,305.2 547.2,305.1 548.2,305.0 549.3,305.0 550.4,304.9 551.7,304.7 553.0,304.6 554.2,304.4 555.4,304.3 556.6,304.1 557.7,303.9 558.9,303.8 560.0,303.6 561.1,303.4 562.2,303.2 563.3,303.1 564.5,302.9 564.5,302.9" fill="none" stroke="#B2DF8A" stroke-width="4.4" stroke-linecap="round" stroke-linejoin="round" stroke-opacity="1"/>
<polyline points="573.2,298.0 574.1,297.2 574.9,296.4 575.8,295.7 576.7,294.9 577.6,294.1 578.4,293.3 579.3,292.5 580.1,291.7 581.0,290.9 581.8,290.0 582.6,289.1 583.5,288.3 584.3,287.4 585.1,286.6 585.8,285.8 586.7,284.9 587.5,284.0 588.3,283.2 589.1,282.4 589.9,281.5 590.7,280.7 591.4,279.8 592.1,278.9 592.8,278.0 593.6,277.0 594.5,276.1 595.2,275.4 596.0,274.6 596.9,273.8 597.7,273.0 598.7,272.2 599.6,271.4 600.6,270.5 601.5,269.7 602.5,268.9 603.4,268.1 604.3,267.4 605.3,266.6 606.2,265.9 607.2,265.2 608.1,264.5 609.1,263.8 610.1,263.0 611.0,262.3 611.9,261.6 612.9,260.8 613.7,260.0 614.6,259.2 615.5,258.3 616.3,257.5 617.2,256.6 618.0,255.7 618.8,254.9 619.7,254.0 620.5,253.1 621.3,252.3 622.2,251.5 623.1,250.7 624.0,249.9 624.9,249.2 625.8,248.4 626.7,247.7 627.6,246.9 628.5,246.2 629.4,245.4 630.2,244.7 631.1,243.9 632.0,243.1 632.9,242.3 633.8,241.5 634.7,240.7 635.5,239.9 636.4,239.1 637.2,238.2 638.0,237.3 638.7,236.3 639.3,235.4 640.0,234.4 640.6,233.4 641.2,232.3 641.7,231.2 642.3,230.1 642.8,229.0 643.3,227.8 643.8,226.7 644.2,225.6 644.6,224.6 645.0,223.4 645.4,222.3 645.7,221.2 646.0,220.0 646.2,218.9 646.5,217.8 646.7,216.6 647.0,215.5 647.2,214.4 647.5,213.2 647.8,212.1 648.1,210.9 648.4,209.8 648.6,208.7 648.9,207.5 649.2,206.3 649.5,205.2 649.8,204.0 650.1,202.9 650.4,201.7 650.7,200.6 651.0,199.4 651.4,198.2 651.4,198.2" fill="none" stroke="#B2DF8A" stroke-width="4.4" stroke-linecap="round" stroke-linejoin="round" stroke-opacity="1"/>
<circle cx="651.4" cy="198.2" r="2.25" fill="#B2DF8A"/><circle cx="652.3" cy="195.0" r="2.25" fill="#B2DF8A"/><circle cx="653.2" cy="191.9" r="2.25" fill="#B2DF8A"/><circle cx="654.1" cy="188.8" r="2.25" fill="#B2DF8A"/><circle cx="655.1" cy="185.7" r="2.25" fill="#B2DF8A"/><circle cx="656.1" cy="182.6" r="2.25" fill="#B2DF8A"/><circle cx="657.0" cy="179.6" r="2.25" fill="#B2DF8A"/><circle cx="657.9" cy="176.4" r="2.25" fill="#B2DF8A"/><circle cx="658.8" cy="173.3" r="2.25" fill="#B2DF8A"/><circle cx="659.8" cy="170.1" r="2.25" fill="#B2DF8A"/><circle cx="660.7" cy="167.0" r="2.25" fill="#B2DF8A"/><circle cx="661.6" cy="163.9" r="2.25" fill="#B2DF8A"/><circle cx="662.5" cy="160.8" r="2.25" fill="#B2DF8A"/><circle cx="663.5" cy="157.7" r="2.25" fill="#B2DF8A"/><circle cx="664.6" cy="154.5" r="2.25" fill="#B2DF8A"/><circle cx="665.6" cy="151.5" r="2.25" fill="#B2DF8A"/><circle cx="666.7" cy="148.4" r="2.25" fill="#B2DF8A"/><circle cx="667.8" cy="145.2" r="2.25" fill="#B2DF8A"/><circle cx="668.8" cy="142.1" r="2.25" fill="#B2DF8A"/><circle cx="669.8" cy="139.0" r="2.25" fill="#B2DF8A"/><circle cx="670.7" cy="135.9" r="2.25" fill="#B2DF8A"/><circle cx="671.6" cy="132.7" r="2.25" fill="#B2DF8A"/><circle cx="672.6" cy="129.5" r="2.25" fill="#B2DF8A"/><circle cx="673.6" cy="126.4" r="2.25" fill="#B2DF8A"/><circle cx="674.6" cy="123.1" r="2.25" fill="#B2DF8A"/><circle cx="675.8" cy="120.1" r="2.25" fill="#B2DF8A"/><circle cx="677.5" cy="117.3" r="2.25" fill="#B2DF8A"/><circle cx="679.6" cy="114.9" r="2.25" fill="#B2DF8A"/><circle cx="681.8" cy="112.6" r="2.25" fill="#B2DF8A"/><circle cx="684.0" cy="110.1" r="2.25" fill="#B2DF8A"/><circle cx="686.1" cy="107.7" r="2.25" fill="#B2DF8A"/><circle cx="688.3" cy="105.1" r="2.25" fill="#B2DF8A"/><circle cx="690.4" cy="102.7" r="2.25" fill="#B2DF8A"/><circle cx="692.3" cy="100.2" r="2.25" fill="#B2DF8A"/><circle cx="693.0" cy="98.5" r="2.25" fill="#B2DF8A"/>
<polyline points="434.1,307.0 457.8,307.0 464.6,307.0 469.6,307.0 473.3,307.0 476.3,307.0 480.2,307.0 482.6,307.0 495.0,305.2 518.6,302.4 550.0,301.0 564.5,299.2 573.2,293.4 582.4,285.6 588.0,280.0 591.7,274.4 598.1,264.2 604.4,255.3 613.3,245.2 620.9,235.6 629.5,225.5 637.1,215.4 643.5,205.2 648.5,191.9 650.8,181.8 654.6,166.6 656.5,157.7 661.9,139.3 665.7,129.2 670.1,117.8 673.3,110.2 678.4,100.0 683.5,93.1 688.5,84.2 693.6,74.7" fill="none" stroke="#984EA3" stroke-width="1.1" stroke-linecap="round" stroke-linejoin="round" stroke-opacity="0.6"/>
<circle cx="434.1" cy="307.0" r="2.25" fill="#984EA3"/><circle cx="457.8" cy="307.0" r="2.25" fill="#984EA3"/><circle cx="464.6" cy="307.0" r="2.25" fill="#984EA3"/><circle cx="469.6" cy="307.0" r="2.25" fill="#984EA3"/><circle cx="473.3" cy="307.0" r="2.25" fill="#984EA3"/><circle cx="476.3" cy="307.0" r="2.25" fill="#984EA3"/><circle cx="480.2" cy="307.0" r="2.25" fill="#984EA3"/>
<polyline points="482.6,307.0 483.8,306.8 484.9,306.7 486.0,306.5 487.1,306.3 488.3,306.2 489.4,306.0 490.6,305.8 491.8,305.6 493.0,305.5 494.3,305.3 495.5,305.1 496.5,305.0 497.6,304.9 498.6,304.7 499.7,304.6 500.8,304.4 502.0,304.3 503.1,304.1 504.3,304.0 505.5,303.8 506.7,303.7 507.9,303.5 509.2,303.4 510.4,303.2 511.7,303.1 512.9,302.9 514.2,302.8 515.4,302.7 516.7,302.6 518.0,302.5 519.2,302.4 520.3,302.3 521.5,302.2 522.7,302.1 523.9,302.1 525.1,302.0 526.3,302.0 527.6,301.9 528.9,301.9 530.1,301.8 531.4,301.8 532.7,301.7 534.0,301.7 535.2,301.7 536.5,301.6 537.8,301.6 539.0,301.5 540.3,301.5 541.5,301.5 542.7,301.4 543.8,301.4 545.0,301.3 546.1,301.3 547.2,301.2 548.2,301.1 549.3,301.1 550.4,301.0 551.7,300.8 553.0,300.7 554.2,300.6 555.4,300.4 556.6,300.3 557.7,300.1 558.9,300.0 560.0,299.8 561.1,299.7 562.2,299.5 563.3,299.3 564.5,299.2 564.5,299.2" fill="none" stroke="#984EA3" stroke-width="4.4" stroke-linecap="round" stroke-linejoin="round" stroke-opacity="1"/>
<polyline points="573.2,293.4 574.1,292.6 575.0,291.9 576.0,291.1 576.9,290.3 577.8,289.5 578.8,288.8 579.7,288.0 580.5,287.2 581.4,286.5 582.2,285.8 583.1,285.0 584.0,284.1 584.9,283.3 585.7,282.5 586.5,281.7 587.3,280.9 588.0,280.0 588.7,279.1 589.4,278.2 590.0,277.2 590.6,276.2 591.2,275.2 591.8,274.2 592.4,273.3 593.0,272.4 593.6,271.4 594.2,270.3 594.9,269.3 595.5,268.3 596.2,267.2 596.8,266.2 597.5,265.2 598.1,264.2 598.8,263.2 599.4,262.2 600.1,261.3 600.7,260.3 601.4,259.4 602.1,258.4 602.8,257.5 603.5,256.5 604.2,255.5 604.9,254.6 605.7,253.7 606.5,252.8 607.3,251.9 608.1,251.0 608.9,250.1 609.7,249.2 610.5,248.3 611.3,247.4 612.1,246.5 612.9,245.6 613.7,244.7 614.5,243.8 615.2,242.9 615.9,241.9 616.7,241.0 617.4,240.1 618.1,239.1 618.8,238.2 619.6,237.2 620.3,236.3 621.1,235.4 621.8,234.5 622.6,233.6 623.4,232.7 624.1,231.8 624.9,230.9 625.7,230.0 626.5,229.1 627.2,228.2 628.0,227.3 628.8,226.4 629.5,225.5 630.2,224.6 631.0,223.6 631.7,222.7 632.4,221.8 633.1,220.8 633.9,219.9 634.6,219.0 635.2,218.0 635.9,217.1 636.6,216.1 637.3,215.2 637.9,214.2 638.6,213.2 639.3,212.3 639.9,211.3 640.5,210.3 641.2,209.3 641.8,208.3 642.4,207.3 642.9,206.3 643.5,205.2 644.0,204.2 644.5,203.1 645.0,202.0 645.4,200.9 645.9,199.7 646.3,198.6 646.5,198.0" fill="none" stroke="#984EA3" stroke-width="4.4" stroke-linecap="round" stroke-linejoin="round" stroke-opacity="1"/>
<circle cx="646.5" cy="198.0" r="2.25" fill="#984EA3"/><circle cx="647.6" cy="194.9" r="2.25" fill="#984EA3"/><circle cx="648.5" cy="191.9" r="2.25" fill="#984EA3"/><circle cx="649.3" cy="188.7" r="2.25" fill="#984EA3"/><circle cx="650.0" cy="185.6" r="2.25" fill="#984EA3"/><circle cx="650.7" cy="182.4" r="2.25" fill="#984EA3"/><circle cx="651.4" cy="179.4" r="2.25" fill="#984EA3"/><circle cx="652.2" cy="176.1" r="2.25" fill="#984EA3"/><circle cx="653.0" cy="173.1" r="2.25" fill="#984EA3"/><circle cx="653.8" cy="169.8" r="2.25" fill="#984EA3"/><circle cx="654.6" cy="166.6" r="2.25" fill="#984EA3"/><circle cx="655.3" cy="163.4" r="2.25" fill="#984EA3"/><circle cx="655.9" cy="160.2" r="2.25" fill="#984EA3"/><circle cx="656.7" cy="157.0" r="2.25" fill="#984EA3"/><circle cx="657.6" cy="153.7" r="2.25" fill="#984EA3"/><circle cx="658.4" cy="150.7" r="2.25" fill="#984EA3"/><circle cx="659.3" cy="147.6" r="2.25" fill="#984EA3"/><circle cx="660.2" cy="144.5" r="2.25" fill="#984EA3"/><circle cx="661.2" cy="141.4" r="2.25" fill="#984EA3"/><circle cx="662.2" cy="138.3" r="2.25" fill="#984EA3"/><circle cx="663.4" cy="135.2" r="2.25" fill="#984EA3"/><circle cx="664.5" cy="132.2" r="2.25" fill="#984EA3"/><circle cx="665.7" cy="129.2" r="2.25" fill="#984EA3"/><circle cx="666.9" cy="126.1" r="2.25" fill="#984EA3"/><circle cx="668.1" cy="123.0" r="2.25" fill="#984EA3"/><circle cx="669.3" cy="119.9" r="2.25" fill="#984EA3"/><circle cx="670.5" cy="116.9" r="2.25" fill="#984EA3"/><circle cx="671.7" cy="114.0" r="2.25" fill="#984EA3"/><circle cx="672.9" cy="111.0" r="2.25" fill="#984EA3"/><circle cx="674.2" cy="108.2" r="2.25" fill="#984EA3"/><circle cx="675.6" cy="105.2" r="2.25" fill="#984EA3"/><circle cx="677.1" cy="102.2" r="2.25" fill="#984EA3"/><circle cx="678.7" cy="99.5" r="2.25" fill="#984EA3"/><circle cx="680.7" cy="96.9" r="2.25" fill="#984EA3"/><circle cx="682.6" cy="94.3" r="2.25" fill="#984EA3"/><circle cx="684.4" cy="91.7" r="2.25" fill="#984EA3"/><circle cx="686.0" cy="88.9" r="2.25" fill="#984EA3"/><circle cx="687.5" cy="86.0" r="2.25" fill="#984EA3"/><circle cx="689.1" cy="83.2" r="2.25" fill="#984EA3"/><circle cx="690.6" cy="80.3" r="2.25" fill="#984EA3"/><circle cx="692.2" cy="77.3" r="2.25" fill="#984EA3"/><circle cx="693.6" cy="74.7" r="2.25" fill="#984EA3"/>
<polyline points="434.1,305.8 457.8,305.8 464.6,305.8 469.6,305.8 473.3,305.8 476.3,305.8 480.2,305.8 482.6,305.8 487.0,305.2 495.0,303.2 498.9,302.5 518.6,300.1 550.0,298.6 564.5,297.2 572.8,292.0 580.8,285.0 586.0,278.0 594.8,262.0 601.9,254.0 607.0,245.2 613.9,235.0 621.9,220.5 630.8,205.2 639.7,190.0 642.5,181.8 647.6,167.8 652.0,155.2 655.9,145.0 658.7,139.3 664.3,124.0 669.8,111.0 675.5,100.0 681.5,90.0 687.5,80.0 693.3,71.0" fill="none" stroke="#FB9A99" stroke-width="1.1" stroke-linecap="round" stroke-linejoin="round" stroke-opacity="0.6"/>
<circle cx="434.1" cy="305.8" r="2.25" fill="#FB9A99"/><circle cx="457.8" cy="305.8" r="2.25" fill="#FB9A99"/><circle cx="464.6" cy="305.8" r="2.25" fill="#FB9A99"/><circle cx="469.6" cy="305.8" r="2.25" fill="#FB9A99"/><circle cx="473.3" cy="305.8" r="2.25" fill="#FB9A99"/><circle cx="476.3" cy="305.8" r="2.25" fill="#FB9A99"/><circle cx="480.2" cy="305.8" r="2.25" fill="#FB9A99"/>
<polyline points="482.6,305.8 483.7,305.7 484.9,305.5 486.0,305.4 487.2,305.2 488.3,304.9 489.5,304.6 490.7,304.3 492.0,304.0 493.1,303.6 494.3,303.4 495.3,303.1 496.4,302.9 497.3,302.7 498.5,302.6 499.5,302.4 500.3,302.3 501.2,302.2 502.2,302.0 503.2,301.9 504.4,301.7 505.5,301.6 506.7,301.4 508.0,301.2 509.3,301.1 510.6,300.9 511.9,300.8 513.2,300.6 514.6,300.5 515.9,300.3 517.3,300.2 518.6,300.1 519.7,300.0 520.8,299.9 521.9,299.9 523.1,299.8 524.3,299.7 525.5,299.7 526.8,299.6 528.0,299.5 529.3,299.5 530.6,299.4 531.9,299.4 533.1,299.3 534.4,299.3 535.7,299.2 537.0,299.2 538.3,299.2 539.5,299.1 540.8,299.1 542.0,299.0 543.2,299.0 544.4,298.9 545.5,298.9 546.6,298.8 547.7,298.7 548.8,298.7 549.8,298.6 551.0,298.5 552.4,298.4 553.6,298.3 554.8,298.2 556.0,298.1 557.2,298.0 558.3,297.8 559.4,297.7 560.5,297.6 561.6,297.5 562.8,297.4 563.9,297.3 564.5,297.2" fill="none" stroke="#FB9A99" stroke-width="4.4" stroke-linecap="round" stroke-linejoin="round" stroke-opacity="1"/>
<polyline points="572.8,292.0 573.7,291.2 574.6,290.5 575.6,289.7 576.5,288.9 577.4,288.2 578.3,287.4 579.2,286.6 580.0,285.8 580.8,285.0 581.6,284.1 582.3,283.3 583.0,282.4 583.6,281.5 584.3,280.6 584.9,279.6 585.6,278.6 586.3,277.6 586.8,276.7 587.4,275.7 587.9,274.7 588.5,273.6 589.0,272.5 589.6,271.3 590.2,270.2 590.8,269.0 591.4,267.9 592.0,266.8 592.6,265.7 593.2,264.6 593.8,263.6 594.4,262.7 595.0,261.7 595.8,260.7 596.6,259.8 597.4,258.9 598.2,258.0 599.1,257.2 599.9,256.4 600.6,255.6 601.4,254.7 602.1,253.8 602.7,252.8 603.4,251.8 603.9,250.7 604.5,249.7 605.0,248.6 605.6,247.6 606.2,246.5 606.8,245.5 607.5,244.5 608.1,243.6 608.7,242.6 609.4,241.7 610.0,240.7 610.7,239.8 611.4,238.8 612.1,237.8 612.7,236.8 613.4,235.8 614.0,234.8 614.6,233.8 615.2,232.8 615.7,231.8 616.3,230.8 616.9,229.8 617.4,228.7 618.0,227.7 618.6,226.6 619.1,225.6 619.7,224.5 620.3,223.4 620.9,222.3 621.5,221.3 622.0,220.2 622.6,219.2 623.2,218.2 623.8,217.2 624.4,216.2 625.0,215.2 625.6,214.1 626.2,213.1 626.8,212.1 627.4,211.1 628.0,210.1 628.6,209.0 629.2,208.0 629.8,207.0 630.4,206.0 631.0,204.9 631.6,203.9 632.2,202.8 632.9,201.8 633.5,200.7 634.2,199.6 634.9,198.5 635.2,198.0" fill="none" stroke="#FB9A99" stroke-width="4.4" stroke-linecap="round" stroke-linejoin="round" stroke-opacity="1"/>
<circle cx="635.2" cy="198.0" r="2.25" fill="#FB9A99"/><circle cx="637.0" cy="195.1" r="2.25" fill="#FB9A99"/><circle cx="638.5" cy="192.3" r="2.25" fill="#FB9A99"/><circle cx="640.0" cy="189.4" r="2.25" fill="#FB9A99"/><circle cx="641.1" cy="186.3" r="2.25" fill="#FB9A99"/><circle cx="642.0" cy="183.3" r="2.25" fill="#FB9A99"/><circle cx="643.0" cy="180.3" r="2.25" fill="#FB9A99"/><circle cx="644.1" cy="177.3" r="2.25" fill="#FB9A99"/><circle cx="645.3" cy="174.1" r="2.25" fill="#FB9A99"/><circle cx="646.4" cy="171.2" r="2.25" fill="#FB9A99"/><circle cx="647.5" cy="168.1" r="2.25" fill="#FB9A99"/><circle cx="648.6" cy="164.9" r="2.25" fill="#FB9A99"/><circle cx="649.7" cy="161.8" r="2.25" fill="#FB9A99"/><circle cx="650.7" cy="158.7" r="2.25" fill="#FB9A99"/><circle cx="651.8" cy="155.7" r="2.25" fill="#FB9A99"/><circle cx="653.0" cy="152.6" r="2.25" fill="#FB9A99"/><circle cx="654.1" cy="149.4" r="2.25" fill="#FB9A99"/><circle cx="655.3" cy="146.5" r="2.25" fill="#FB9A99"/><circle cx="656.7" cy="143.4" r="2.25" fill="#FB9A99"/><circle cx="658.2" cy="140.5" r="2.25" fill="#FB9A99"/><circle cx="659.4" cy="137.5" r="2.25" fill="#FB9A99"/><circle cx="660.5" cy="134.5" r="2.25" fill="#FB9A99"/><circle cx="661.6" cy="131.6" r="2.25" fill="#FB9A99"/><circle cx="662.6" cy="128.6" r="2.25" fill="#FB9A99"/><circle cx="663.7" cy="125.6" r="2.25" fill="#FB9A99"/><circle cx="664.9" cy="122.6" r="2.25" fill="#FB9A99"/><circle cx="666.1" cy="119.5" r="2.25" fill="#FB9A99"/><circle cx="667.3" cy="116.5" r="2.25" fill="#FB9A99"/><circle cx="668.6" cy="113.6" r="2.25" fill="#FB9A99"/><circle cx="669.9" cy="110.7" r="2.25" fill="#FB9A99"/><circle cx="671.4" cy="107.8" r="2.25" fill="#FB9A99"/><circle cx="672.9" cy="104.9" r="2.25" fill="#FB9A99"/><circle cx="674.4" cy="102.0" r="2.25" fill="#FB9A99"/><circle cx="675.9" cy="99.2" r="2.25" fill="#FB9A99"/><circle cx="677.6" cy="96.4" r="2.25" fill="#FB9A99"/><circle cx="679.3" cy="93.6" r="2.25" fill="#FB9A99"/><circle cx="681.0" cy="90.8" r="2.25" fill="#FB9A99"/><circle cx="682.7" cy="87.9" r="2.25" fill="#FB9A99"/><circle cx="684.4" cy="85.1" r="2.25" fill="#FB9A99"/><circle cx="686.1" cy="82.3" r="2.25" fill="#FB9A99"/><circle cx="687.8" cy="79.5" r="2.25" fill="#FB9A99"/><circle cx="689.6" cy="76.7" r="2.25" fill="#FB9A99"/><circle cx="691.4" cy="74.0" r="2.25" fill="#FB9A99"/><circle cx="693.1" cy="71.2" r="2.25" fill="#FB9A99"/><circle cx="693.3" cy="71.0" r="2.25" fill="#FB9A99"/>
<polyline points="434.1,305.0 457.8,305.0 464.6,305.0 469.6,305.0 473.3,305.0 476.3,305.0 480.2,305.0 482.6,304.9 486.0,304.4 490.0,303.4 495.0,302.3 498.9,301.6 510.0,300.0 518.6,299.2 524.7,298.7 538.3,298.1 550.0,297.3 564.5,295.8 572.5,290.6 578.2,285.6 583.8,280.0 586.7,274.4 594.3,260.4 601.9,246.4 608.2,235.0 615.5,219.2 624.4,204.0 633.3,190.0 637.2,181.8 642.5,169.1 648.4,155.2 652.3,145.0 656.4,135.5 662.8,121.6 668.8,108.9 673.9,100.0 675.9,95.6 680.9,86.7 686.0,78.5 690.4,71.5 693.0,68.3" fill="none" stroke="#FF7F00" stroke-width="1.1" stroke-linecap="round" stroke-linejoin="round" stroke-opacity="0.6"/>
<circle cx="434.1" cy="305.0" r="2.25" fill="#FF7F00"/><circle cx="457.8" cy="305.0" r="2.25" fill="#FF7F00"/><circle cx="464.6" cy="305.0" r="2.25" fill="#FF7F00"/><circle cx="469.6" cy="305.0" r="2.25" fill="#FF7F00"/><circle cx="473.3" cy="305.0" r="2.25" fill="#FF7F00"/><circle cx="476.3" cy="305.0" r="2.25" fill="#FF7F00"/><circle cx="480.2" cy="305.0" r="2.25" fill="#FF7F00"/>
<polyline points="482.6,304.9 483.7,304.7 484.8,304.6 486.0,304.4 487.1,304.1 488.2,303.9 489.4,303.5 490.5,303.3 491.6,303.0 492.8,302.8 493.9,302.5 495.0,302.3 496.1,302.1 497.1,301.9 498.2,301.7 499.4,301.5 500.3,301.4 501.4,301.2 502.6,301.0 503.9,300.8 505.1,300.6 506.4,300.5 507.7,300.3 508.9,300.1 510.0,300.0 511.3,299.9 512.5,299.7 513.7,299.6 514.9,299.5 516.1,299.4 517.2,299.3 518.3,299.2 519.5,299.1 520.6,299.0 521.7,298.9 522.8,298.8 524.0,298.7 525.2,298.7 526.2,298.6 527.3,298.6 528.5,298.5 529.7,298.5 530.9,298.4 532.2,298.4 533.4,298.3 534.7,298.3 535.9,298.2 537.1,298.2 538.3,298.1 539.5,298.0 540.7,298.0 541.8,297.9 543.0,297.8 544.1,297.7 545.3,297.7 546.4,297.6 547.6,297.5 548.8,297.4 550.0,297.3 551.1,297.2 552.3,297.1 553.4,297.0 554.6,296.9 555.8,296.7 557.0,296.6 558.2,296.5 559.4,296.3 560.6,296.2 561.8,296.1 563.0,296.0 564.2,295.8 564.5,295.8" fill="none" stroke="#FF7F00" stroke-width="4.4" stroke-linecap="round" stroke-linejoin="round" stroke-opacity="1"/>
<polyline points="572.5,290.6 573.4,289.8 574.3,289.1 575.1,288.3 576.0,287.6 576.9,286.8 577.8,286.0 578.6,285.2 579.5,284.4 580.4,283.6 581.3,282.8 582.1,281.9 582.9,281.1 583.6,280.2 584.3,279.3 584.8,278.3 585.3,277.4 585.7,276.4 586.2,275.3 586.8,274.2 587.3,273.3 587.8,272.4 588.3,271.5 588.8,270.5 589.4,269.4 590.0,268.3 590.6,267.2 591.2,266.1 591.8,265.0 592.4,263.9 593.0,262.8 593.6,261.7 594.2,260.7 594.7,259.6 595.3,258.6 595.9,257.5 596.4,256.5 597.0,255.4 597.6,254.4 598.1,253.3 598.7,252.3 599.3,251.2 599.8,250.2 600.4,249.2 600.9,248.1 601.5,247.1 602.0,246.1 602.6,245.1 603.2,244.0 603.8,243.0 604.4,242.0 604.9,241.0 605.5,240.0 606.1,239.0 606.6,238.0 607.2,236.9 607.8,235.8 608.3,234.8 608.8,233.8 609.3,232.7 609.8,231.7 610.3,230.6 610.7,229.6 611.2,228.5 611.7,227.4 612.2,226.3 612.7,225.2 613.2,224.1 613.7,223.0 614.2,221.9 614.7,220.8 615.2,219.7 615.8,218.7 616.3,217.6 616.9,216.6 617.5,215.5 618.1,214.5 618.7,213.4 619.3,212.4 619.9,211.4 620.5,210.3 621.1,209.3 621.8,208.3 622.4,207.3 623.0,206.3 623.6,205.3 624.2,204.3 624.9,203.2 625.5,202.2 626.2,201.2 626.9,200.1 627.6,199.1 628.2,198.0 628.2,198.0" fill="none" stroke="#FF7F00" stroke-width="4.4" stroke-linecap="round" stroke-linejoin="round" stroke-opacity="1"/>
<circle cx="628.2" cy="198.0" r="2.25" fill="#FF7F00"/><circle cx="630.1" cy="195.2" r="2.25" fill="#FF7F00"/><circle cx="631.8" cy="192.5" r="2.25" fill="#FF7F00"/><circle cx="633.5" cy="189.7" r="2.25" fill="#FF7F00"/><circle cx="635.0" cy="186.8" r="2.25" fill="#FF7F00"/><circle cx="636.3" cy="183.7" r="2.25" fill="#FF7F00"/><circle cx="637.6" cy="180.8" r="2.25" fill="#FF7F00"/><circle cx="638.9" cy="177.9" r="2.25" fill="#FF7F00"/><circle cx="640.1" cy="174.8" r="2.25" fill="#FF7F00"/><circle cx="641.4" cy="171.7" r="2.25" fill="#FF7F00"/><circle cx="642.7" cy="168.6" r="2.25" fill="#FF7F00"/><circle cx="644.0" cy="165.6" r="2.25" fill="#FF7F00"/><circle cx="645.3" cy="162.5" r="2.25" fill="#FF7F00"/><circle cx="646.6" cy="159.4" r="2.25" fill="#FF7F00"/><circle cx="647.9" cy="156.5" r="2.25" fill="#FF7F00"/><circle cx="649.1" cy="153.5" r="2.25" fill="#FF7F00"/><circle cx="650.2" cy="150.4" r="2.25" fill="#FF7F00"/><circle cx="651.4" cy="147.4" r="2.25" fill="#FF7F00"/><circle cx="652.5" cy="144.4" r="2.25" fill="#FF7F00"/><circle cx="653.8" cy="141.5" r="2.25" fill="#FF7F00"/><circle cx="655.0" cy="138.6" r="2.25" fill="#FF7F00"/><circle cx="656.4" cy="135.5" r="2.25" fill="#FF7F00"/><circle cx="657.8" cy="132.5" r="2.25" fill="#FF7F00"/><circle cx="659.1" cy="129.5" r="2.25" fill="#FF7F00"/><circle cx="660.5" cy="126.5" r="2.25" fill="#FF7F00"/><circle cx="661.9" cy="123.5" r="2.25" fill="#FF7F00"/><circle cx="663.3" cy="120.5" r="2.25" fill="#FF7F00"/><circle cx="664.7" cy="117.4" r="2.25" fill="#FF7F00"/><circle cx="666.1" cy="114.4" r="2.25" fill="#FF7F00"/><circle cx="667.5" cy="111.4" r="2.25" fill="#FF7F00"/><circle cx="668.9" cy="108.6" r="2.25" fill="#FF7F00"/><circle cx="670.5" cy="105.9" r="2.25" fill="#FF7F00"/><circle cx="672.2" cy="103.0" r="2.25" fill="#FF7F00"/><circle cx="673.8" cy="100.2" r="2.25" fill="#FF7F00"/><circle cx="675.2" cy="97.2" r="2.25" fill="#FF7F00"/><circle cx="676.6" cy="94.2" r="2.25" fill="#FF7F00"/><circle cx="678.2" cy="91.4" r="2.25" fill="#FF7F00"/><circle cx="679.8" cy="88.5" r="2.25" fill="#FF7F00"/><circle cx="681.5" cy="85.7" r="2.25" fill="#FF7F00"/><circle cx="683.2" cy="82.9" r="2.25" fill="#FF7F00"/><circle cx="684.9" cy="80.2" r="2.25" fill="#FF7F00"/><circle cx="686.7" cy="77.4" r="2.25" fill="#FF7F00"/><circle cx="688.3" cy="74.8" r="2.25" fill="#FF7F00"/><circle cx="690.0" cy="72.1" r="2.25" fill="#FF7F00"/><circle cx="691.9" cy="69.6" r="2.25" fill="#FF7F00"/><circle cx="693.0" cy="68.3" r="2.25" fill="#FF7F00"/>
<line x1="604.3" y1="289.0" x2="670.3" y2="122.2" stroke="#000" stroke-width="4.2" stroke-dasharray="13.9 14.9"/>
<text x="564.6999999999999" y="194.1" font-size="21">~</text><polyline points="583.0,189.5 585.3,188.7 588.5,193.9 592.1999999999999,177.6 608.8,177.6" fill="none" stroke="#000" stroke-width="0.9"/><text x="595.6999999999999" y="194.1" font-size="21.3">n</text>
</g>
<g id="ticks">
<text x="108.7" y="352.6" text-anchor="middle" font-size="20.2" fill="#4D4D4D">1e+01</text>
<text x="485.8" y="352.6" text-anchor="middle" font-size="20.2" fill="#4D4D4D">1e+01</text>
<text x="195.2" y="352.6" text-anchor="middle" font-size="20.2" fill="#4D4D4D">1e+03</text>
<text x="564.5" y="352.6" text-anchor="middle" font-size="20.2" fill="#4D4D4D">1e+03</text>
<text x="281.8" y="352.6" text-anchor="middle" font-size="20.2" fill="#4D4D4D">1e+05</text>
<text x="643.1" y="352.6" text-anchor="middle" font-size="20.2" fill="#4D4D4D">1e+05</text>
<text x="416.6" y="312.1" text-anchor="end" font-size="20.2" fill="#4D4D4D">10</text>
</g>
<g id="titles" fill="#000">
<text x="194.9" y="378" text-anchor="middle" font-size="25.2">Epochs (n)</text>
<text x="563.3" y="378" text-anchor="middle" font-size="25.2">Epochs (n)</text>
<text x="9.6" y="78.3" font-size="25.2" font-weight="bold">A</text>
<text x="364.6" y="78.3" font-size="25.2" font-weight="bold">B</text>
<g transform="translate(26,222.6) rotate(-90)">
<path d="M0.6,-15.9 C0.9,-17.7 2.0,-18.5 3.2,-18.2 C4.3,-17.9 4.9,-16.9 5.5,-15.3 L10.1,-2.9 C10.6,-1.5 11.2,-0.8 12.4,-0.7" fill="none" stroke="#000" stroke-width="1.9"/>
<path d="M6.3,-11.6 L1.5,0" fill="none" stroke="#000" stroke-width="2"/>
<text x="13.9" y="4.6" font-size="18">K</text>
<line x1="29.2" y1="3.3" x2="35.1" y2="-21.6" stroke="#000" stroke-width="1.2"/>
<text x="39.0" y="0" font-size="25.2">K</text>
</g>
<g transform="translate(377.9,208.8) rotate(-90)">
<text x="0" y="0" font-size="25.2">R</text>
<text x="17.4" y="5.0" font-size="18">g</text>
</g>
</g>
<g id="legend" fill="#000">
<line x1="306.2" y1="13.4" x2="317.8" y2="13.4" stroke="#CCCCCC" stroke-width="1.1" stroke-opacity="0.5"/>
<circle cx="312.0" cy="13.4" r="2.3" fill="#CCCCCC"/>
<text x="323.5" y="20.1" font-size="20.2">2</text>
<line x1="306.0" y1="37.0" x2="317.6" y2="37.0" stroke="#A6CEE3" stroke-width="1.1" stroke-opacity="0.5"/>
<circle cx="311.8" cy="37.0" r="2.3" fill="#A6CEE3"/>
<text x="323.5" y="43.7" font-size="20.2">5</text>
<line x1="341.5" y1="13.4" x2="353.1" y2="13.4" stroke="#B2DF8A" stroke-width="1.1" stroke-opacity="0.5"/>
<circle cx="347.3" cy="13.4" r="2.3" fill="#B2DF8A"/>
<text x="359.5" y="20.1" font-size="20.2">10</text>
<line x1="341.5" y1="37.0" x2="353.1" y2="37.0" stroke="#984EA3" stroke-width="1.1" stroke-opacity="0.5"/>
<circle cx="347.3" cy="37.0" r="2.3" fill="#984EA3"/>
<text x="359.5" y="43.7" font-size="20.2">20</text>
<line x1="387.2" y1="13.4" x2="398.8" y2="13.4" stroke="#FB9A99" stroke-width="1.1" stroke-opacity="0.5"/>
<circle cx="393" cy="13.4" r="2.3" fill="#FB9A99"/>
<text x="405" y="20.1" font-size="20.2">40</text>
<line x1="387.2" y1="37.0" x2="398.8" y2="37.0" stroke="#FF7F00" stroke-width="1.1" stroke-opacity="0.5"/>
<circle cx="393" cy="37.0" r="2.3" fill="#FF7F00"/>
<text x="405" y="43.7" font-size="20.2">80</text>
<text x="282.5" y="34" font-size="25.2">K</text>
</g>
</svg>
</body></html>
